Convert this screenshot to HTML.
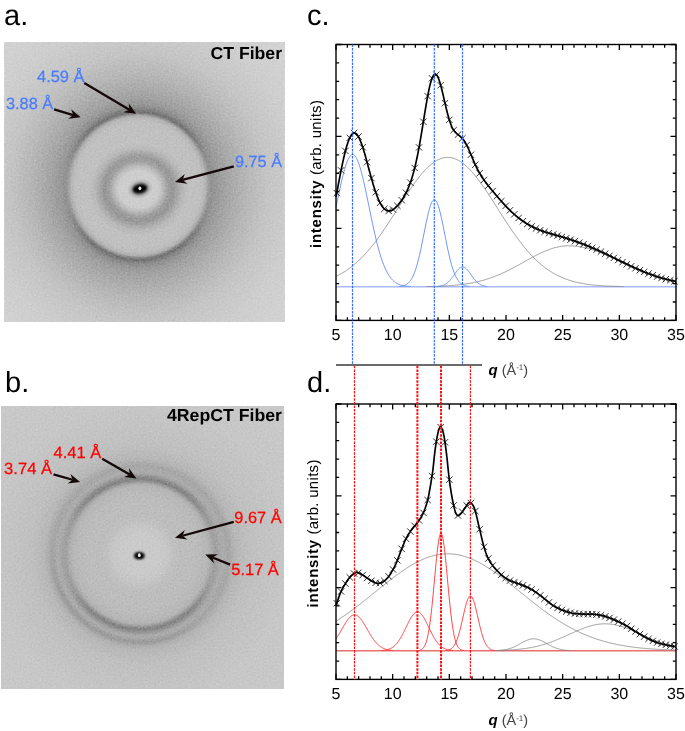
<!DOCTYPE html>
<html><head><meta charset="utf-8"><style>
html,body{margin:0;padding:0;background:#fff;}
svg{display:block;}
text{text-rendering:geometricPrecision;}
.gs{opacity:0.999;}
</style></head><body>
<svg width="685" height="731" viewBox="0 0 685 731" >
<g style="opacity:0.999"><defs><filter id="blur1" x="-50%" y="-50%" width="200%" height="200%"><feGaussianBlur stdDeviation="0.9"/></filter><filter id="blur05" x="-50%" y="-50%" width="200%" height="200%"><feGaussianBlur stdDeviation="0.4"/></filter></defs>
<defs><radialGradient id="rga" gradientUnits="userSpaceOnUse" cx="138.3" cy="185.8" r="200" gradientTransform="translate(138.3,185.8) rotate(0) scale(1,1.026) translate(-138.3,-185.8)"><stop offset="0.0000" stop-color="rgb(207,207,207)"/><stop offset="0.1100" stop-color="rgb(205,205,205)"/><stop offset="0.1500" stop-color="rgb(199,199,199)"/><stop offset="0.2250" stop-color="rgb(193,193,193)"/><stop offset="0.3000" stop-color="rgb(193,193,193)"/><stop offset="0.3200" stop-color="rgb(190,190,190)"/><stop offset="0.3350" stop-color="rgb(181,181,181)"/><stop offset="0.3475" stop-color="rgb(164,164,164)"/><stop offset="0.3600" stop-color="rgb(147,147,147)"/><stop offset="0.3700" stop-color="rgb(146,146,146)"/><stop offset="0.3850" stop-color="rgb(152,152,152)"/><stop offset="0.4250" stop-color="rgb(161,161,161)"/><stop offset="0.4750" stop-color="rgb(171,171,171)"/><stop offset="0.5500" stop-color="rgb(184,184,184)"/><stop offset="0.6500" stop-color="rgb(197,197,197)"/><stop offset="0.8000" stop-color="rgb(206,206,206)"/><stop offset="1.0000" stop-color="rgb(212,212,212)"/></radialGradient><clipPath id="cpa"><rect x="4.5" y="42" width="280" height="280"/></clipPath><radialGradient id="ova0" gradientUnits="userSpaceOnUse" cx="138.6" cy="189.2" r="60" gradientTransform="translate(138.6,189.2) rotate(0) scale(1,0.93) translate(-138.6,-189.2)"><stop offset="0.0000" stop-color="#000" stop-opacity="0"/><stop offset="0.3333" stop-color="#000" stop-opacity="0"/><stop offset="0.4167" stop-color="#000" stop-opacity="0.09"/><stop offset="0.5000" stop-color="#000" stop-opacity="0.21"/><stop offset="0.5833" stop-color="#000" stop-opacity="0.23"/><stop offset="0.6500" stop-color="#000" stop-opacity="0.15"/><stop offset="0.7333" stop-color="#000" stop-opacity="0.05"/><stop offset="0.8333" stop-color="#000" stop-opacity="0"/><stop offset="1.0000" stop-color="#000" stop-opacity="0"/></radialGradient><radialGradient id="ova1" gradientUnits="userSpaceOnUse" cx="138.3" cy="185.8" r="100" gradientTransform="translate(138.3,185.8) rotate(0) scale(1,1.026) translate(-138.3,-185.8)"><stop offset="0.0000" stop-color="#000" stop-opacity="0"/><stop offset="0.6850" stop-color="#000" stop-opacity="0"/><stop offset="0.7050" stop-color="#000" stop-opacity="0.15"/><stop offset="0.7200" stop-color="#000" stop-opacity="0.22"/><stop offset="0.7350" stop-color="#000" stop-opacity="0.16"/><stop offset="0.7600" stop-color="#000" stop-opacity="0.07"/><stop offset="0.8000" stop-color="#000" stop-opacity="0.02"/><stop offset="0.8500" stop-color="#000" stop-opacity="0"/><stop offset="1.0000" stop-color="#000" stop-opacity="0"/></radialGradient><filter id="mfa1" x="-50%" y="-50%" width="200%" height="200%"><feGaussianBlur stdDeviation="14"/></filter><mask id="mka1" maskUnits="userSpaceOnUse" x="4.5" y="42" width="280" height="280"><rect x="4.5" y="42" width="280" height="280" fill="rgb(0,0,0)"/><path d="M138.3,185.8 L-189.36,-43.63 L-144.54,-97.04 L-91.13,-141.86 L-30.75,-176.72 L34.77,-200.57 L103.44,-212.68 L173.16,-212.68 L241.83,-200.57 L307.35,-176.72 L367.73,-141.86 L421.14,-97.04 L465.96,-43.63ZM138.3,185.8 L465.96,415.23 L421.14,468.64 L367.73,513.46 L307.35,548.32 L241.83,572.17 L173.16,584.28 L103.44,584.28 L34.77,572.17 L-30.75,548.32 L-91.13,513.46 L-144.54,468.64 L-189.36,415.23Z" fill="#fff" filter="url(#mfa1)"/></mask><filter id="noisea" x="4.5" y="42" width="280" height="280" filterUnits="userSpaceOnUse" color-interpolation-filters="sRGB"><feTurbulence type="fractalNoise" baseFrequency="0.55" numOctaves="2" seed="3"/><feColorMatrix type="matrix" values="0.33 0.33 0.33 0 0  0.33 0.33 0.33 0 0  0.33 0.33 0.33 0 0  0 0 0 0 1"/></filter><radialGradient id="bha" gradientUnits="userSpaceOnUse" cx="139.9" cy="188.8" r="13" gradientTransform="translate(139.9,188.8) rotate(-12) scale(1,0.75) translate(-139.9,-188.8)"><stop offset="0" stop-color="#000" stop-opacity="0.8"/><stop offset="0.45" stop-color="#000" stop-opacity="0.42"/><stop offset="0.75" stop-color="#000" stop-opacity="0.12"/><stop offset="1" stop-color="#000" stop-opacity="0"/></radialGradient></defs><g clip-path="url(#cpa)"><rect x="4.5" y="42" width="280" height="280" fill="url(#rga)"/><rect x="4.5" y="42" width="280" height="280" fill="url(#ova0)"/><rect x="4.5" y="42" width="280" height="280" fill="url(#ova1)" mask="url(#mka1)"/><rect x="4.5" y="42" width="280" height="280" filter="url(#noisea)" opacity="0.35" style="mix-blend-mode:overlay"/><rect x="126.9" y="175.8" width="26" height="26" fill="url(#bha)"/><ellipse cx="139.9" cy="188.8" rx="7.2" ry="4.3" transform="rotate(-12 139.9 188.8)" fill="#000" filter="url(#blur1)"/><ellipse cx="139.9" cy="188.3" rx="1.4" ry="1.9" fill="#eee" filter="url(#blur05)"/></g>
<defs><radialGradient id="rgb" gradientUnits="userSpaceOnUse" cx="140.2" cy="554.2" r="200" gradientTransform="translate(140.2,554.2) rotate(0) scale(1,1.0) translate(-140.2,-554.2)"><stop offset="0.0000" stop-color="rgb(203,203,203)"/><stop offset="0.1000" stop-color="rgb(202,202,202)"/><stop offset="0.1400" stop-color="rgb(198,198,198)"/><stop offset="0.1700" stop-color="rgb(192,192,192)"/><stop offset="0.2000" stop-color="rgb(189,189,189)"/><stop offset="0.2500" stop-color="rgb(189,189,189)"/><stop offset="0.2900" stop-color="rgb(188,188,188)"/><stop offset="0.3150" stop-color="rgb(185,185,185)"/><stop offset="0.3350" stop-color="rgb(183,183,183)"/><stop offset="0.3500" stop-color="rgb(177,177,177)"/><stop offset="0.3600" stop-color="rgb(170,170,170)"/><stop offset="0.3700" stop-color="rgb(162,162,162)"/><stop offset="0.3800" stop-color="rgb(160,160,160)"/><stop offset="0.3900" stop-color="rgb(164,164,164)"/><stop offset="0.4025" stop-color="rgb(170,170,170)"/><stop offset="0.4150" stop-color="rgb(172,172,172)"/><stop offset="0.4300" stop-color="rgb(168,168,168)"/><stop offset="0.4425" stop-color="rgb(166,166,166)"/><stop offset="0.4550" stop-color="rgb(172,172,172)"/><stop offset="0.4800" stop-color="rgb(183,183,183)"/><stop offset="0.5500" stop-color="rgb(192,192,192)"/><stop offset="0.7500" stop-color="rgb(199,199,199)"/><stop offset="1.0000" stop-color="rgb(201,201,201)"/></radialGradient><clipPath id="cpb"><rect x="1" y="406" width="283" height="283"/></clipPath><radialGradient id="ovb0" gradientUnits="userSpaceOnUse" cx="140.2" cy="554.2" r="100" gradientTransform="translate(140.2,554.2) rotate(0) scale(1,1) translate(-140.2,-554.2)"><stop offset="0.0000" stop-color="#000" stop-opacity="0"/><stop offset="0.7000" stop-color="#000" stop-opacity="0"/><stop offset="0.7250" stop-color="#000" stop-opacity="0.09"/><stop offset="0.7500" stop-color="#000" stop-opacity="0.18"/><stop offset="0.7750" stop-color="#000" stop-opacity="0.12"/><stop offset="0.8000" stop-color="#000" stop-opacity="0.04"/><stop offset="0.8200" stop-color="#000" stop-opacity="0"/><stop offset="1.0000" stop-color="#000" stop-opacity="0"/></radialGradient><filter id="mfb0" x="-50%" y="-50%" width="200%" height="200%"><feGaussianBlur stdDeviation="14"/></filter><mask id="mkb0" maskUnits="userSpaceOnUse" x="1" y="406" width="283" height="283"><rect x="1" y="406" width="283" height="283" fill="rgb(0,0,0)"/><path d="M140.2,554.2 L-187.46,324.77 L-142.64,271.36 L-89.23,226.54 L-28.85,191.68 L36.67,167.83 L105.34,155.72 L175.06,155.72 L243.73,167.83 L309.25,191.68 L369.63,226.54 L423.04,271.36 L467.86,324.77ZM140.2,554.2 L467.86,783.63 L423.04,837.04 L369.63,881.86 L309.25,916.72 L243.73,940.57 L175.06,952.68 L105.34,952.68 L36.67,940.57 L-28.85,916.72 L-89.23,881.86 L-142.64,837.04 L-187.46,783.63Z" fill="#fff" filter="url(#mfb0)"/></mask><radialGradient id="ovb1" gradientUnits="userSpaceOnUse" cx="140.5" cy="553.8" r="100" gradientTransform="translate(140.5,553.8) rotate(0) scale(1,1) translate(-140.5,-553.8)"><stop offset="0.0000" stop-color="#000" stop-opacity="0"/><stop offset="0.8400" stop-color="#000" stop-opacity="0"/><stop offset="0.8700" stop-color="#000" stop-opacity="0.06"/><stop offset="0.8950" stop-color="#000" stop-opacity="0.06"/><stop offset="0.9250" stop-color="#000" stop-opacity="0"/><stop offset="1.0000" stop-color="#000" stop-opacity="0"/></radialGradient><filter id="mfb1" x="-50%" y="-50%" width="200%" height="200%"><feGaussianBlur stdDeviation="16"/></filter><mask id="mkb1" maskUnits="userSpaceOnUse" x="1" y="406" width="283" height="283"><rect x="1" y="406" width="283" height="283" fill="rgb(0,0,0)"/><path d="M140.5,553.8 L340.5,900.21 L277.31,929.68 L209.96,947.72 L140.5,953.8 L71.04,947.72 L3.69,929.68 L-59.5,900.21 L-116.62,860.22 L-165.92,810.92 L-205.91,753.8 L-235.38,690.61 L-253.42,623.26Z" fill="#fff" filter="url(#mfb1)"/></mask><filter id="noiseb" x="1" y="406" width="283" height="283" filterUnits="userSpaceOnUse" color-interpolation-filters="sRGB"><feTurbulence type="fractalNoise" baseFrequency="0.55" numOctaves="2" seed="7"/><feColorMatrix type="matrix" values="0.33 0.33 0.33 0 0  0.33 0.33 0.33 0 0  0.33 0.33 0.33 0 0  0 0 0 0 1"/></filter><radialGradient id="bhb" gradientUnits="userSpaceOnUse" cx="139.3" cy="555.7" r="8" gradientTransform="translate(139.3,555.7) rotate(0) scale(1,0.75) translate(-139.3,-555.7)"><stop offset="0" stop-color="#000" stop-opacity="0.8"/><stop offset="0.45" stop-color="#000" stop-opacity="0.42"/><stop offset="0.75" stop-color="#000" stop-opacity="0.12"/><stop offset="1" stop-color="#000" stop-opacity="0"/></radialGradient></defs><g clip-path="url(#cpb)"><rect x="1" y="406" width="283" height="283" fill="url(#rgb)"/><rect x="1" y="406" width="283" height="283" fill="url(#ovb0)" mask="url(#mkb0)"/><rect x="1" y="406" width="283" height="283" fill="url(#ovb1)" mask="url(#mkb1)"/><rect x="1" y="406" width="283" height="283" filter="url(#noiseb)" opacity="0.35" style="mix-blend-mode:overlay"/><rect x="131.3" y="547.7" width="16" height="16" fill="url(#bhb)"/><ellipse cx="139.3" cy="555.7" rx="4.8" ry="3.3" transform="rotate(0 139.3 555.7)" fill="#000" filter="url(#blur1)"/><ellipse cx="139.3" cy="555.2" rx="1.4" ry="1.9" fill="#eee" filter="url(#blur05)"/></g>
<g font-family="Liberation Sans" font-size="29"><text x="4" y="25">a.</text><text x="5" y="392">b.</text><text x="307" y="25">c.</text><text x="307" y="392">d.</text></g>
<g font-family="Liberation Sans" font-size="17.3" font-weight="bold" text-anchor="end"><text x="282" y="59.4" textLength="71.5" lengthAdjust="spacingAndGlyphs">CT Fiber</text><text x="282" y="421.2" textLength="115" lengthAdjust="spacingAndGlyphs">4RepCT Fiber</text></g>
<g font-family="Liberation Sans" font-size="16.3" fill="#4a7cfc" stroke="#4a7cfc" stroke-width="0.25"><text x="37" y="81.6" textLength="47.5" lengthAdjust="spacingAndGlyphs">4.59 Å</text><text x="6" y="108.6" textLength="47.2" lengthAdjust="spacingAndGlyphs">3.88 Å</text><text x="235" y="167.3" textLength="47" lengthAdjust="spacingAndGlyphs">9.75 Å</text></g>
<g font-family="Liberation Sans" font-size="16.3" fill="#ff0000" stroke="#ff0000" stroke-width="0.25"><text x="53.5" y="458" textLength="47.7" lengthAdjust="spacingAndGlyphs">4.41 Å</text><text x="4.1" y="473.7" textLength="48" lengthAdjust="spacingAndGlyphs">3.74 Å</text><text x="234.3" y="523" textLength="47.3" lengthAdjust="spacingAndGlyphs">9.67 Å</text><text x="231.3" y="575.2" textLength="47.5" lengthAdjust="spacingAndGlyphs">5.17 Å</text></g>
<path d="M84.3,83L129.39,109.72" stroke="#140808" stroke-width="2.3"/><path d="M136.1,113.7L123.66,112.14L129.39,109.72L128.76,103.54Z" fill="#140808"/>
<path d="M54.1,109.3L73.23,115.05" stroke="#140808" stroke-width="2.3"/><path d="M80.7,117.3L68.25,118.78L73.23,115.05L71.13,109.2Z" fill="#140808"/>
<path d="M233.8,166.3L182.54,179.9" stroke="#140808" stroke-width="2.3"/><path d="M175,181.9L184.83,174.12L182.54,179.9L187.4,183.78Z" fill="#140808"/>
<path d="M102.2,458.8L129.73,474.53" stroke="#140808" stroke-width="2.3"/><path d="M136.5,478.4L124.03,477.04L129.73,474.53L129,468.35Z" fill="#140808"/>
<path d="M53.5,474.3L72.6,479.76" stroke="#140808" stroke-width="2.3"/><path d="M80.1,481.9L67.67,483.55L72.6,479.76L70.42,473.93Z" fill="#140808"/>
<path d="M233.8,521.8L182.53,535.75" stroke="#140808" stroke-width="2.3"/><path d="M175,537.8L184.78,529.96L182.53,535.75L187.41,539.61Z" fill="#140808"/>
<path d="M230.1,564.6L212.53,557.52" stroke="#140808" stroke-width="2.3"/><path d="M205.3,554.6L217.84,554.26L212.53,557.52L214.1,563.54Z" fill="#140808"/>
<path d="M336,286.8H676" stroke="#a8bcf8" stroke-width="1.6"/>
<path d="M336,276.34 L336.5,276.1 L337,275.86 L337.5,275.62 L338,275.36 L338.5,275.11 L339,274.85 L339.5,274.59 L340,274.32 L340.5,274.04 L341,273.77 L341.5,273.48 L342,273.2 L342.5,272.9 L343,272.61 L343.5,272.3 L344,272 L344.5,271.68 L345,271.37 L345.5,271.05 L346,270.72 L346.5,270.39 L347,270.05 L347.5,269.71 L348,269.36 L348.5,269 L349,268.65 L349.5,268.28 L350,267.91 L350.5,267.54 L351,267.16 L351.5,266.77 L352,266.38 L352.5,265.98 L353,265.58 L353.5,265.17 L354,264.76 L354.5,264.34 L355,263.92 L355.5,263.49 L356,263.05 L356.5,262.61 L357,262.16 L357.5,261.71 L358,261.25 L358.5,260.78 L359,260.31 L359.5,259.84 L360,259.35 L360.5,258.86 L361,258.37 L361.5,257.87 L362,257.36 L362.5,256.85 L363,256.34 L363.5,255.81 L364,255.28 L364.5,254.75 L365,254.21 L365.5,253.66 L366,253.11 L366.5,252.55 L367,251.99 L367.5,251.42 L368,250.85 L368.5,250.26 L369,249.68 L369.5,249.09 L370,248.49 L370.5,247.89 L371,247.28 L371.5,246.66 L372,246.04 L372.5,245.42 L373,244.79 L373.5,244.15 L374,243.51 L374.5,242.87 L375,242.22 L375.5,241.56 L376,240.9 L376.5,240.23 L377,239.56 L377.5,238.89 L378,238.21 L378.5,237.52 L379,236.83 L379.5,236.14 L380,235.44 L380.5,234.74 L381,234.03 L381.5,233.32 L382,232.6 L382.5,231.88 L383,231.16 L383.5,230.43 L384,229.7 L384.5,228.96 L385,228.22 L385.5,227.48 L386,226.74 L386.5,225.99 L387,225.24 L387.5,224.48 L388,223.72 L388.5,222.96 L389,222.2 L389.5,221.43 L390,220.67 L390.5,219.89 L391,219.12 L391.5,218.35 L392,217.57 L392.5,216.79 L393,216.01 L393.5,215.23 L394,214.45 L394.5,213.67 L395,212.88 L395.5,212.09 L396,211.31 L396.5,210.52 L397,209.73 L397.5,208.95 L398,208.16 L398.5,207.37 L399,206.58 L399.5,205.79 L400,205.01 L400.5,204.22 L401,203.44 L401.5,202.65 L402,201.87 L402.5,201.09 L403,200.31 L403.5,199.53 L404,198.75 L404.5,197.98 L405,197.2 L405.5,196.43 L406,195.67 L406.5,194.9 L407,194.14 L407.5,193.38 L408,192.63 L408.5,191.87 L409,191.12 L409.5,190.38 L410,189.64 L410.5,188.9 L411,188.17 L411.5,187.44 L412,186.72 L412.5,186 L413,185.29 L413.5,184.58 L414,183.88 L414.5,183.18 L415,182.49 L415.5,181.81 L416,181.13 L416.5,180.46 L417,179.79 L417.5,179.13 L418,178.48 L418.5,177.84 L419,177.2 L419.5,176.57 L420,175.95 L420.5,175.33 L421,174.72 L421.5,174.12 L422,173.53 L422.5,172.95 L423,172.38 L423.5,171.81 L424,171.25 L424.5,170.71 L425,170.17 L425.5,169.64 L426,169.12 L426.5,168.61 L427,168.11 L427.5,167.62 L428,167.14 L428.5,166.67 L429,166.21 L429.5,165.76 L430,165.32 L430.5,164.89 L431,164.47 L431.5,164.07 L432,163.67 L432.5,163.29 L433,162.92 L433.5,162.55 L434,162.21 L434.5,161.87 L435,161.54 L435.5,161.23 L436,160.92 L436.5,160.63 L437,160.35 L437.5,160.09 L438,159.83 L438.5,159.59 L439,159.36 L439.5,159.14 L440,158.94 L440.5,158.75 L441,158.57 L441.5,158.4 L442,158.24 L442.5,158.1 L443,157.98 L443.5,157.86 L444,157.76 L444.5,157.67 L445,157.59 L445.5,157.53 L446,157.48 L446.5,157.44 L447,157.41 L447.5,157.4 L448,157.4 L448.5,157.42 L449,157.44 L449.5,157.48 L450,157.54 L450.5,157.6 L451,157.68 L451.5,157.78 L452,157.88 L452.5,158 L453,158.13 L453.5,158.27 L454,158.43 L454.5,158.6 L455,158.78 L455.5,158.98 L456,159.18 L456.5,159.4 L457,159.64 L457.5,159.88 L458,160.14 L458.5,160.41 L459,160.69 L459.5,160.98 L460,161.29 L460.5,161.6 L461,161.93 L461.5,162.27 L462,162.63 L462.5,162.99 L463,163.37 L463.5,163.75 L464,164.15 L464.5,164.56 L465,164.98 L465.5,165.41 L466,165.85 L466.5,166.3 L467,166.76 L467.5,167.23 L468,167.72 L468.5,168.21 L469,168.71 L469.5,169.22 L470,169.74 L470.5,170.28 L471,170.82 L471.5,171.36 L472,171.92 L472.5,172.49 L473,173.07 L473.5,173.65 L474,174.24 L474.5,174.84 L475,175.45 L475.5,176.07 L476,176.69 L476.5,177.33 L477,177.97 L477.5,178.61 L478,179.27 L478.5,179.93 L479,180.59 L479.5,181.27 L480,181.95 L480.5,182.63 L481,183.32 L481.5,184.02 L482,184.72 L482.5,185.43 L483,186.15 L483.5,186.87 L484,187.59 L484.5,188.32 L485,189.05 L485.5,189.79 L486,190.53 L486.5,191.27 L487,192.02 L487.5,192.78 L488,193.53 L488.5,194.29 L489,195.05 L489.5,195.82 L490,196.59 L490.5,197.36 L491,198.13 L491.5,198.91 L492,199.68 L492.5,200.46 L493,201.24 L493.5,202.02 L494,202.81 L494.5,203.59 L495,204.38 L495.5,205.16 L496,205.95 L496.5,206.74 L497,207.53 L497.5,208.31 L498,209.1 L498.5,209.89 L499,210.68 L499.5,211.47 L500,212.25 L500.5,213.04 L501,213.82 L501.5,214.61 L502,215.39 L502.5,216.17 L503,216.95 L503.5,217.73 L504,218.5 L504.5,219.28 L505,220.05 L505.5,220.82 L506,221.59 L506.5,222.35 L507,223.11 L507.5,223.87 L508,224.63 L508.5,225.39 L509,226.14 L509.5,226.89 L510,227.63 L510.5,228.37 L511,229.11 L511.5,229.84 L512,230.58 L512.5,231.3 L513,232.03 L513.5,232.74 L514,233.46 L514.5,234.17 L515,234.88 L515.5,235.58 L516,236.28 L516.5,236.97 L517,237.66 L517.5,238.34 L518,239.02 L518.5,239.7 L519,240.37 L519.5,241.03 L520,241.69 L520.5,242.35 L521,243 L521.5,243.64 L522,244.28 L522.5,244.92 L523,245.55 L523.5,246.17 L524,246.79 L524.5,247.4 L525,248.01 L525.5,248.61 L526,249.21 L526.5,249.8 L527,250.38 L527.5,250.96 L528,251.53 L528.5,252.1 L529,252.66 L529.5,253.22 L530,253.77 L530.5,254.32 L531,254.86 L531.5,255.39 L532,255.92 L532.5,256.44 L533,256.96 L533.5,257.47 L534,257.97 L534.5,258.47 L535,258.96 L535.5,259.45 L536,259.93 L536.5,260.41 L537,260.88 L537.5,261.34 L538,261.8 L538.5,262.25 L539,262.7 L539.5,263.14 L540,263.57 L540.5,264 L541,264.43 L541.5,264.84 L542,265.26 L542.5,265.66 L543,266.06 L543.5,266.46 L544,266.85 L544.5,267.23 L545,267.61 L545.5,267.99 L546,268.36 L546.5,268.72 L547,269.08 L547.5,269.43 L548,269.77 L548.5,270.12 L549,270.45 L549.5,270.78 L550,271.11 L550.5,271.43 L551,271.75 L551.5,272.06 L552,272.36 L552.5,272.67 L553,272.96 L553.5,273.25 L554,273.54 L554.5,273.82 L555,274.1 L555.5,274.37 L556,274.64 L556.5,274.9 L557,275.16 L557.5,275.42 L558,275.66 L558.5,275.91 L559,276.15 L559.5,276.39 L560,276.62 L560.5,276.85 L561,277.07 L561.5,277.29 L562,277.51 L562.5,277.72 L563,277.93 L563.5,278.13 L564,278.33 L564.5,278.53 L565,278.72 L565.5,278.91 L566,279.1 L566.5,279.28 L567,279.46 L567.5,279.63 L568,279.81 L568.5,279.97 L569,280.14 L569.5,280.3 L570,280.46 L570.5,280.61 L571,280.76 L571.5,280.91 L572,281.06 L572.5,281.2 L573,281.34 L573.5,281.48 L574,281.61 L574.5,281.74 L575,281.87 L575.5,281.99 L576,282.12 L576.5,282.24 L577,282.35 L577.5,282.47 L578,282.58 L578.5,282.69 L579,282.8 L579.5,282.9 L580,283 L580.5,283.1 L581,283.2 L581.5,283.3 L582,283.39 L582.5,283.48 L583,283.57 L583.5,283.66 L584,283.74 L584.5,283.83 L585,283.91 L585.5,283.99 L586,284.06 L586.5,284.14 L587,284.21 L587.5,284.28 L588,284.35 L588.5,284.42 L589,284.49 L589.5,284.55 L590,284.62 L590.5,284.68 L591,284.74 L591.5,284.8 L592,284.86 L592.5,284.91 L593,284.97 L593.5,285.02 L594,285.07 L594.5,285.12 L595,285.17 L595.5,285.22 L596,285.26 L596.5,285.31 L597,285.35 L597.5,285.4 L598,285.44 L598.5,285.48 L599,285.52 L599.5,285.56 L600,285.59 L600.5,285.63 L601,285.67 L601.5,285.7 L602,285.74 L602.5,285.77 L603,285.8 L603.5,285.83 L604,285.86 L604.5,285.89 L605,285.92 L605.5,285.95 L606,285.97 L606.5,286 L607,286.02 L607.5,286.05 L608,286.07 L608.5,286.1 L609,286.12 L609.5,286.14 L610,286.16 L610.5,286.18 L611,286.2 L611.5,286.22 L612,286.24 L612.5,286.26 L613,286.28 L613.5,286.29 L614,286.31 L614.5,286.33 L615,286.34 L615.5,286.36 L616,286.37 L616.5,286.39 L617,286.4 L617.5,286.41 L618,286.43 L618.5,286.44 L619,286.45 L619.5,286.46 L620,286.47 L620.5,286.49 L621,286.5 L621.5,286.51 L622,286.52 L622.5,286.53 L623,286.54 L623.5,286.55" stroke="#828282" stroke-width="0.8" fill="none"/>
<path d="M426.5,286.55 L427,286.54 L427.5,286.53 L428,286.52 L428.5,286.51 L429,286.5 L429.5,286.49 L430,286.48 L430.5,286.47 L431,286.45 L431.5,286.44 L432,286.43 L432.5,286.42 L433,286.4 L433.5,286.39 L434,286.37 L434.5,286.36 L435,286.34 L435.5,286.33 L436,286.31 L436.5,286.3 L437,286.28 L437.5,286.26 L438,286.24 L438.5,286.23 L439,286.21 L439.5,286.19 L440,286.17 L440.5,286.15 L441,286.12 L441.5,286.1 L442,286.08 L442.5,286.06 L443,286.03 L443.5,286.01 L444,285.98 L444.5,285.96 L445,285.93 L445.5,285.9 L446,285.87 L446.5,285.84 L447,285.81 L447.5,285.78 L448,285.75 L448.5,285.72 L449,285.69 L449.5,285.65 L450,285.62 L450.5,285.58 L451,285.54 L451.5,285.51 L452,285.47 L452.5,285.43 L453,285.39 L453.5,285.35 L454,285.3 L454.5,285.26 L455,285.21 L455.5,285.17 L456,285.12 L456.5,285.07 L457,285.02 L457.5,284.97 L458,284.92 L458.5,284.87 L459,284.81 L459.5,284.76 L460,284.7 L460.5,284.64 L461,284.58 L461.5,284.52 L462,284.46 L462.5,284.4 L463,284.33 L463.5,284.27 L464,284.2 L464.5,284.13 L465,284.06 L465.5,283.99 L466,283.91 L466.5,283.84 L467,283.76 L467.5,283.68 L468,283.6 L468.5,283.52 L469,283.43 L469.5,283.35 L470,283.26 L470.5,283.17 L471,283.08 L471.5,282.99 L472,282.89 L472.5,282.8 L473,282.7 L473.5,282.6 L474,282.5 L474.5,282.4 L475,282.29 L475.5,282.18 L476,282.07 L476.5,281.96 L477,281.85 L477.5,281.73 L478,281.62 L478.5,281.5 L479,281.37 L479.5,281.25 L480,281.13 L480.5,281 L481,280.87 L481.5,280.74 L482,280.6 L482.5,280.46 L483,280.33 L483.5,280.19 L484,280.04 L484.5,279.9 L485,279.75 L485.5,279.6 L486,279.45 L486.5,279.29 L487,279.14 L487.5,278.98 L488,278.82 L488.5,278.65 L489,278.49 L489.5,278.32 L490,278.15 L490.5,277.98 L491,277.8 L491.5,277.62 L492,277.44 L492.5,277.26 L493,277.08 L493.5,276.89 L494,276.7 L494.5,276.51 L495,276.32 L495.5,276.12 L496,275.93 L496.5,275.73 L497,275.52 L497.5,275.32 L498,275.11 L498.5,274.9 L499,274.69 L499.5,274.48 L500,274.26 L500.5,274.04 L501,273.82 L501.5,273.6 L502,273.38 L502.5,273.15 L503,272.92 L503.5,272.69 L504,272.46 L504.5,272.22 L505,271.99 L505.5,271.75 L506,271.51 L506.5,271.27 L507,271.02 L507.5,270.78 L508,270.53 L508.5,270.28 L509,270.03 L509.5,269.78 L510,269.52 L510.5,269.27 L511,269.01 L511.5,268.75 L512,268.49 L512.5,268.23 L513,267.96 L513.5,267.7 L514,267.43 L514.5,267.17 L515,266.9 L515.5,266.63 L516,266.36 L516.5,266.09 L517,265.81 L517.5,265.54 L518,265.27 L518.5,264.99 L519,264.71 L519.5,264.44 L520,264.16 L520.5,263.88 L521,263.61 L521.5,263.33 L522,263.05 L522.5,262.77 L523,262.49 L523.5,262.21 L524,261.93 L524.5,261.65 L525,261.37 L525.5,261.09 L526,260.82 L526.5,260.54 L527,260.26 L527.5,259.98 L528,259.7 L528.5,259.43 L529,259.15 L529.5,258.87 L530,258.6 L530.5,258.33 L531,258.05 L531.5,257.78 L532,257.51 L532.5,257.24 L533,256.97 L533.5,256.71 L534,256.44 L534.5,256.18 L535,255.92 L535.5,255.66 L536,255.4 L536.5,255.14 L537,254.89 L537.5,254.63 L538,254.38 L538.5,254.13 L539,253.89 L539.5,253.64 L540,253.4 L540.5,253.16 L541,252.93 L541.5,252.69 L542,252.46 L542.5,252.23 L543,252.01 L543.5,251.79 L544,251.57 L544.5,251.35 L545,251.14 L545.5,250.93 L546,250.72 L546.5,250.52 L547,250.32 L547.5,250.12 L548,249.93 L548.5,249.74 L549,249.55 L549.5,249.37 L550,249.19 L550.5,249.02 L551,248.85 L551.5,248.69 L552,248.52 L552.5,248.37 L553,248.21 L553.5,248.06 L554,247.92 L554.5,247.78 L555,247.64 L555.5,247.51 L556,247.39 L556.5,247.26 L557,247.15 L557.5,247.03 L558,246.93 L558.5,246.82 L559,246.72 L559.5,246.63 L560,246.54 L560.5,246.46 L561,246.38 L561.5,246.3 L562,246.24 L562.5,246.17 L563,246.11 L563.5,246.06 L564,246.01 L564.5,245.97 L565,245.93 L565.5,245.89 L566,245.86 L566.5,245.84 L567,245.82 L567.5,245.81 L568,245.8 L568.5,245.8 L569,245.8 L569.5,245.81 L570,245.82 L570.5,245.83 L571,245.85 L571.5,245.87 L572,245.89 L572.5,245.92 L573,245.95 L573.5,245.98 L574,246.02 L574.5,246.06 L575,246.11 L575.5,246.16 L576,246.21 L576.5,246.26 L577,246.32 L577.5,246.39 L578,246.45 L578.5,246.52 L579,246.6 L579.5,246.67 L580,246.75 L580.5,246.84 L581,246.92 L581.5,247.01 L582,247.11 L582.5,247.21 L583,247.31 L583.5,247.41 L584,247.52 L584.5,247.63 L585,247.74 L585.5,247.86 L586,247.98 L586.5,248.1 L587,248.22 L587.5,248.35 L588,248.48 L588.5,248.62 L589,248.76 L589.5,248.9 L590,249.04 L590.5,249.18 L591,249.33 L591.5,249.48 L592,249.64 L592.5,249.8 L593,249.95 L593.5,250.12 L594,250.28 L594.5,250.45 L595,250.62 L595.5,250.79 L596,250.96 L596.5,251.14 L597,251.32 L597.5,251.5 L598,251.68 L598.5,251.87 L599,252.06 L599.5,252.25 L600,252.44 L600.5,252.63 L601,252.83 L601.5,253.02 L602,253.22 L602.5,253.43 L603,253.63 L603.5,253.83 L604,254.04 L604.5,254.25 L605,254.46 L605.5,254.67 L606,254.88 L606.5,255.09 L607,255.31 L607.5,255.52 L608,255.74 L608.5,255.96 L609,256.18 L609.5,256.4 L610,256.63 L610.5,256.85 L611,257.07 L611.5,257.3 L612,257.52 L612.5,257.75 L613,257.98 L613.5,258.21 L614,258.44 L614.5,258.67 L615,258.9 L615.5,259.13 L616,259.36 L616.5,259.59 L617,259.83 L617.5,260.06 L618,260.29 L618.5,260.53 L619,260.76 L619.5,260.99 L620,261.23 L620.5,261.46 L621,261.7 L621.5,261.93 L622,262.17 L622.5,262.4 L623,262.64 L623.5,262.87 L624,263.1 L624.5,263.34 L625,263.57 L625.5,263.81 L626,264.04 L626.5,264.27 L627,264.5 L627.5,264.74 L628,264.97 L628.5,265.2 L629,265.43 L629.5,265.66 L630,265.89 L630.5,266.12 L631,266.34 L631.5,266.57 L632,266.8 L632.5,267.02 L633,267.25 L633.5,267.47 L634,267.7 L634.5,267.92 L635,268.14 L635.5,268.36 L636,268.58 L636.5,268.8 L637,269.02 L637.5,269.23 L638,269.45 L638.5,269.66 L639,269.87 L639.5,270.09 L640,270.3 L640.5,270.51 L641,270.71 L641.5,270.92 L642,271.13 L642.5,271.33 L643,271.53 L643.5,271.74 L644,271.94 L644.5,272.14 L645,272.33 L645.5,272.53 L646,272.72 L646.5,272.92 L647,273.11 L647.5,273.3 L648,273.49 L648.5,273.68 L649,273.86 L649.5,274.05 L650,274.23 L650.5,274.41 L651,274.59 L651.5,274.77 L652,274.95 L652.5,275.12 L653,275.3 L653.5,275.47 L654,275.64 L654.5,275.81 L655,275.98 L655.5,276.14 L656,276.31 L656.5,276.47 L657,276.63 L657.5,276.79 L658,276.95 L658.5,277.1 L659,277.26 L659.5,277.41 L660,277.56 L660.5,277.71 L661,277.86 L661.5,278.01 L662,278.15 L662.5,278.29 L663,278.44 L663.5,278.58 L664,278.71 L664.5,278.85 L665,278.99 L665.5,279.12 L666,279.25 L666.5,279.38 L667,279.51 L667.5,279.64 L668,279.76 L668.5,279.89 L669,280.01 L669.5,280.13 L670,280.25 L670.5,280.37 L671,280.48 L671.5,280.6 L672,280.71 L672.5,280.82 L673,280.93 L673.5,281.04 L674,281.15 L674.5,281.25 L675,281.36 L675.5,281.46 L676,281.56" stroke="#828282" stroke-width="0.8" fill="none"/>
<path d="M336,207.53 L336.5,205.09 L337,202.64 L337.5,200.21 L338,197.78 L338.5,195.38 L339,192.99 L339.5,190.64 L340,188.31 L340.5,186.02 L341,183.78 L341.5,181.58 L342,179.44 L342.5,177.35 L343,175.33 L343.5,173.38 L344,171.5 L344.5,169.69 L345,167.97 L345.5,166.34 L346,164.79 L346.5,163.34 L347,161.99 L347.5,160.74 L348,159.6 L348.5,158.57 L349,157.65 L349.5,156.84 L350,156.15 L350.5,155.58 L351,155.13 L351.5,154.8 L352,154.59 L352.5,154.5 L353,154.54 L353.5,154.7 L354,154.98 L354.5,155.38 L355,155.91 L355.5,156.55 L356,157.31 L356.5,158.19 L357,159.18 L357.5,160.28 L358,161.48 L358.5,162.79 L359,164.2 L359.5,165.71 L360,167.31 L360.5,168.99 L361,170.76 L361.5,172.62 L362,174.54 L362.5,176.54 L363,178.6 L363.5,180.72 L364,182.9 L364.5,185.12 L365,187.39 L365.5,189.7 L366,192.05 L366.5,194.42 L367,196.82 L367.5,199.24 L368,201.67 L368.5,204.11 L369,206.56 L369.5,209 L370,211.44 L370.5,213.88 L371,216.29 L371.5,218.7 L372,221.08 L372.5,223.44 L373,225.77 L373.5,228.06 L374,230.33 L374.5,232.56 L375,234.75 L375.5,236.89 L376,238.99 L376.5,241.05 L377,243.06 L377.5,245.02 L378,246.93 L378.5,248.78 L379,250.59 L379.5,252.34 L380,254.03 L380.5,255.68 L381,257.26 L381.5,258.79 L382,260.27 L382.5,261.69 L383,263.06 L383.5,264.38 L384,265.64 L384.5,266.85 L385,268.01 L385.5,269.11 L386,270.17 L386.5,271.18 L387,272.14 L387.5,273.05 L388,273.92 L388.5,274.75 L389,275.53 L389.5,276.27 L390,276.98 L390.5,277.64 L391,278.27 L391.5,278.86 L392,279.42 L392.5,279.94 L393,280.43 L393.5,280.9 L394,281.33 L394.5,281.74 L395,282.12 L395.5,282.48 L396,282.81 L396.5,283.12 L397,283.41 L397.5,283.68 L398,283.93 L398.5,284.17 L399,284.38 L399.5,284.58 L400,284.77 L400.5,284.94 L401,285.1 L401.5,285.25 L402,285.38 L402.5,285.51 L403,285.62 L403.5,285.73 L404,285.83 L404.5,285.92 L405,286 L405.5,286.07 L406,286.14 L406.5,286.2 L407,286.26 L407.5,286.31 L408,286.36 L408.5,286.4 L409,286.44 L409.5,286.48 L410,286.51 L410.5,286.54" stroke="#5a88f5" stroke-width="0.9" fill="none"/>
<path d="M399,286.53 L399.5,286.48 L400,286.42 L400.5,286.36 L401,286.28 L401.5,286.2 L402,286.1 L402.5,285.99 L403,285.86 L403.5,285.72 L404,285.55 L404.5,285.37 L405,285.16 L405.5,284.92 L406,284.65 L406.5,284.36 L407,284.03 L407.5,283.66 L408,283.24 L408.5,282.79 L409,282.29 L409.5,281.73 L410,281.12 L410.5,280.46 L411,279.73 L411.5,278.93 L412,278.07 L412.5,277.13 L413,276.12 L413.5,275.03 L414,273.85 L414.5,272.6 L415,271.25 L415.5,269.82 L416,268.3 L416.5,266.69 L417,264.99 L417.5,263.2 L418,261.33 L418.5,259.36 L419,257.32 L419.5,255.19 L420,253 L420.5,250.73 L421,248.4 L421.5,246.01 L422,243.57 L422.5,241.09 L423,238.59 L423.5,236.06 L424,233.52 L424.5,230.99 L425,228.47 L425.5,225.98 L426,223.53 L426.5,221.13 L427,218.8 L427.5,216.54 L428,214.38 L428.5,212.33 L429,210.39 L429.5,208.59 L430,206.93 L430.5,205.42 L431,204.07 L431.5,202.9 L432,201.9 L432.5,201.09 L433,200.48 L433.5,200.06 L434,199.84 L434.5,199.82 L435,200 L435.5,200.38 L436,200.95 L436.5,201.72 L437,202.68 L437.5,203.82 L438,205.14 L438.5,206.61 L439,208.25 L439.5,210.02 L440,211.93 L440.5,213.96 L441,216.1 L441.5,218.34 L442,220.66 L442.5,223.04 L443,225.49 L443.5,227.97 L444,230.49 L444.5,233.02 L445,235.55 L445.5,238.08 L446,240.59 L446.5,243.08 L447,245.52 L447.5,247.92 L448,250.27 L448.5,252.55 L449,254.76 L449.5,256.9 L450,258.96 L450.5,260.94 L451,262.83 L451.5,264.64 L452,266.36 L452.5,267.98 L453,269.52 L453.5,270.97 L454,272.33 L454.5,273.61 L455,274.8 L455.5,275.91 L456,276.93 L456.5,277.89 L457,278.76 L457.5,279.57 L458,280.32 L458.5,281 L459,281.62 L459.5,282.18 L460,282.69 L460.5,283.16 L461,283.58 L461.5,283.95 L462,284.29 L462.5,284.6 L463,284.87 L463.5,285.11 L464,285.33 L464.5,285.52 L465,285.68 L465.5,285.83 L466,285.96 L466.5,286.08 L467,286.18 L467.5,286.27 L468,286.34 L468.5,286.41 L469,286.47 L469.5,286.52" stroke="#5a88f5" stroke-width="0.9" fill="none"/>
<path d="M437.5,286.55 L438,286.5 L438.5,286.44 L439,286.38 L439.5,286.31 L440,286.22 L440.5,286.13 L441,286.02 L441.5,285.89 L442,285.75 L442.5,285.59 L443,285.41 L443.5,285.21 L444,284.99 L444.5,284.75 L445,284.48 L445.5,284.18 L446,283.86 L446.5,283.51 L447,283.13 L447.5,282.71 L448,282.27 L448.5,281.8 L449,281.29 L449.5,280.76 L450,280.2 L450.5,279.61 L451,279 L451.5,278.36 L452,277.7 L452.5,277.03 L453,276.34 L453.5,275.64 L454,274.93 L454.5,274.23 L455,273.52 L455.5,272.83 L456,272.15 L456.5,271.5 L457,270.86 L457.5,270.26 L458,269.7 L458.5,269.17 L459,268.7 L459.5,268.27 L460,267.9 L460.5,267.6 L461,267.35 L461.5,267.17 L462,267.05 L462.5,267 L463,267.02 L463.5,267.11 L464,267.27 L464.5,267.49 L465,267.77 L465.5,268.12 L466,268.52 L466.5,268.98 L467,269.48 L467.5,270.03 L468,270.62 L468.5,271.24 L469,271.89 L469.5,272.56 L470,273.25 L470.5,273.94 L471,274.65 L471.5,275.36 L472,276.06 L472.5,276.75 L473,277.43 L473.5,278.1 L474,278.74 L474.5,279.37 L475,279.97 L475.5,280.54 L476,281.09 L476.5,281.6 L477,282.09 L477.5,282.54 L478,282.96 L478.5,283.36 L479,283.72 L479.5,284.06 L480,284.36 L480.5,284.64 L481,284.9 L481.5,285.13 L482,285.34 L482.5,285.52 L483,285.69 L483.5,285.84 L484,285.97 L484.5,286.08 L485,286.19 L485.5,286.27 L486,286.35 L486.5,286.42 L487,286.48 L487.5,286.53" stroke="#5a88f5" stroke-width="0.9" fill="none"/>
<path d="M333.55,189.85l6.4,6.4M333.55,196.25l6.4,-6.4M337.88,167.15l6.4,6.4M337.88,173.55l6.4,-6.4M342.21,147.73l6.4,6.4M342.21,154.13l6.4,-6.4M346.54,134.62l6.4,6.4M346.54,141.02l6.4,-6.4M350.87,129.74l6.4,6.4M350.87,136.14l6.4,-6.4M355.2,133.4l6.4,6.4M355.2,139.8l6.4,-6.4M359.53,144.1l6.4,6.4M359.53,150.5l6.4,-6.4M363.86,159.03l6.4,6.4M363.86,165.43l6.4,-6.4M368.19,174.97l6.4,6.4M368.19,181.37l6.4,-6.4M372.52,189.08l6.4,6.4M372.52,195.48l6.4,-6.4M376.85,199.56l6.4,6.4M376.85,205.96l6.4,-6.4M381.18,205.69l6.4,6.4M381.18,212.09l6.4,-6.4M385.51,207.7l6.4,6.4M385.51,214.1l6.4,-6.4M389.84,206.37l6.4,6.4M389.84,212.77l6.4,-6.4M394.17,202.58l6.4,6.4M394.17,208.98l6.4,-6.4M398.5,196.96l6.4,6.4M398.5,203.36l6.4,-6.4M402.83,189.55l6.4,6.4M402.83,195.95l6.4,-6.4M407.16,179.41l6.4,6.4M407.16,185.81l6.4,-6.4M411.49,164.8l6.4,6.4M411.49,171.2l6.4,-6.4M415.82,144.23l6.4,6.4M415.82,150.63l6.4,-6.4M420.15,118.59l6.4,6.4M420.15,124.99l6.4,-6.4M424.48,92.93l6.4,6.4M424.48,99.33l6.4,-6.4M428.81,75.15l6.4,6.4M428.81,81.55l6.4,-6.4M433.14,71.54l6.4,6.4M433.14,77.94l6.4,-6.4M437.47,82l6.4,6.4M437.47,88.4l6.4,-6.4M441.8,99.95l6.4,6.4M441.8,106.35l6.4,-6.4M446.13,116.65l6.4,6.4M446.13,123.05l6.4,-6.4M450.46,126.88l6.4,6.4M450.46,133.28l6.4,-6.4M454.79,131.47l6.4,6.4M454.79,137.87l6.4,-6.4M459.12,135.19l6.4,6.4M459.12,141.59l6.4,-6.4M463.45,141.89l6.4,6.4M463.45,148.29l6.4,-6.4M467.78,151.53l6.4,6.4M467.78,157.93l6.4,-6.4M472.11,161.55l6.4,6.4M472.11,167.95l6.4,-6.4M476.44,170.01l6.4,6.4M476.44,176.41l6.4,-6.4M480.77,176.76l6.4,6.4M480.77,183.16l6.4,-6.4M485.1,182.5l6.4,6.4M485.1,188.9l6.4,-6.4M489.43,187.84l6.4,6.4M489.43,194.24l6.4,-6.4M493.76,193l6.4,6.4M493.76,199.4l6.4,-6.4M498.09,197.97l6.4,6.4M498.09,204.37l6.4,-6.4M502.42,202.7l6.4,6.4M502.42,209.1l6.4,-6.4M506.75,207.1l6.4,6.4M506.75,213.5l6.4,-6.4M511.08,211.14l6.4,6.4M511.08,217.54l6.4,-6.4M515.41,214.78l6.4,6.4M515.41,221.18l6.4,-6.4M519.74,217.99l6.4,6.4M519.74,224.39l6.4,-6.4M524.07,220.8l6.4,6.4M524.07,227.2l6.4,-6.4M528.4,223.22l6.4,6.4M528.4,229.62l6.4,-6.4M532.73,225.3l6.4,6.4M532.73,231.7l6.4,-6.4M537.06,227.07l6.4,6.4M537.06,233.47l6.4,-6.4M541.39,228.61l6.4,6.4M541.39,235.01l6.4,-6.4M545.72,229.98l6.4,6.4M545.72,236.38l6.4,-6.4M550.05,231.25l6.4,6.4M550.05,237.65l6.4,-6.4M554.38,232.47l6.4,6.4M554.38,238.87l6.4,-6.4M558.71,233.72l6.4,6.4M558.71,240.12l6.4,-6.4M563.04,235.04l6.4,6.4M563.04,241.44l6.4,-6.4M567.37,236.46l6.4,6.4M567.37,242.86l6.4,-6.4M571.7,237.94l6.4,6.4M571.7,244.34l6.4,-6.4M576.03,239.48l6.4,6.4M576.03,245.88l6.4,-6.4M580.36,241.09l6.4,6.4M580.36,247.49l6.4,-6.4M584.69,242.79l6.4,6.4M584.69,249.19l6.4,-6.4M589.02,244.59l6.4,6.4M589.02,250.99l6.4,-6.4M593.35,246.47l6.4,6.4M593.35,252.87l6.4,-6.4M597.68,248.44l6.4,6.4M597.68,254.84l6.4,-6.4M602.01,250.47l6.4,6.4M602.01,256.87l6.4,-6.4M606.34,252.56l6.4,6.4M606.34,258.96l6.4,-6.4M610.67,254.68l6.4,6.4M610.67,261.08l6.4,-6.4M615,256.82l6.4,6.4M615,263.22l6.4,-6.4M619.33,258.94l6.4,6.4M619.33,265.34l6.4,-6.4M623.66,261.04l6.4,6.4M623.66,267.44l6.4,-6.4M627.99,263.08l6.4,6.4M627.99,269.48l6.4,-6.4M632.32,265.06l6.4,6.4M632.32,271.46l6.4,-6.4M636.65,266.96l6.4,6.4M636.65,273.36l6.4,-6.4M640.98,268.75l6.4,6.4M640.98,275.15l6.4,-6.4M645.31,270.44l6.4,6.4M645.31,276.84l6.4,-6.4M649.64,272.01l6.4,6.4M649.64,278.41l6.4,-6.4M653.97,273.47l6.4,6.4M653.97,279.87l6.4,-6.4M658.3,274.79l6.4,6.4M658.3,281.19l6.4,-6.4M662.63,276l6.4,6.4M662.63,282.4l6.4,-6.4M666.96,277.08l6.4,6.4M666.96,283.48l6.4,-6.4M671.29,278.05l6.4,6.4M671.29,284.45l6.4,-6.4" stroke="#333" stroke-width="1" fill="none"/>
<path d="M336,197.08 L336.5,194.39 L337,191.71 L337.5,189.02 L338,186.35 L338.5,183.69 L339,181.04 L339.5,178.42 L340,175.83 L340.5,173.27 L341,170.75 L341.5,168.27 L342,165.83 L342.5,163.46 L343,161.14 L343.5,158.88 L344,156.69 L344.5,154.58 L345,152.54 L345.5,150.58 L346,148.71 L346.5,146.93 L347,145.24 L347.5,143.65 L348,142.16 L348.5,140.77 L349,139.5 L349.5,138.32 L350,137.26 L350.5,136.32 L351,135.49 L351.5,134.77 L352,134.17 L352.5,133.69 L353,133.32 L353.5,133.07 L354,132.94 L354.5,132.93 L355,133.03 L355.5,133.24 L356,133.56 L356.5,134 L357,134.54 L357.5,135.18 L358,135.93 L358.5,136.77 L359,137.71 L359.5,138.74 L360,139.86 L360.5,141.06 L361,142.33 L361.5,143.68 L362,145.1 L362.5,146.59 L363,148.13 L363.5,149.73 L364,151.38 L364.5,153.07 L365,154.8 L365.5,156.56 L366,158.36 L366.5,160.17 L367,162.01 L367.5,163.86 L368,165.71 L368.5,167.57 L369,169.43 L369.5,171.29 L370,173.13 L370.5,174.96 L371,176.77 L371.5,178.56 L372,180.32 L372.5,182.05 L373,183.75 L373.5,185.42 L374,187.04 L374.5,188.62 L375,190.16 L375.5,191.65 L376,193.09 L376.5,194.48 L377,195.82 L377.5,197.1 L378,198.33 L378.5,199.5 L379,200.61 L379.5,201.67 L380,202.67 L380.5,203.61 L381,204.49 L381.5,205.31 L382,206.07 L382.5,206.77 L383,207.41 L383.5,208 L384,208.53 L384.5,209 L385,209.42 L385.5,209.78 L386,210.1 L386.5,210.35 L387,210.56 L387.5,210.72 L388,210.83 L388.5,210.89 L389,210.91 L389.5,210.89 L390,210.82 L390.5,210.71 L391,210.56 L391.5,210.37 L392,210.15 L392.5,209.89 L393,209.6 L393.5,209.27 L394,208.92 L394.5,208.53 L395,208.11 L395.5,207.67 L396,207.2 L396.5,206.7 L397,206.18 L397.5,205.64 L398,205.07 L398.5,204.48 L399,203.86 L399.5,203.23 L400,202.57 L400.5,201.89 L401,201.19 L401.5,200.46 L402,199.71 L402.5,198.94 L403,198.15 L403.5,197.33 L404,196.48 L404.5,195.61 L405,194.71 L405.5,193.77 L406,192.81 L406.5,191.81 L407,190.77 L407.5,189.69 L408,188.57 L408.5,187.4 L409,186.19 L409.5,184.92 L410,183.6 L410.5,182.23 L411,180.79 L411.5,179.29 L412,177.72 L412.5,176.08 L413,174.37 L413.5,172.58 L414,170.71 L414.5,168.77 L415,166.74 L415.5,164.63 L416,162.44 L416.5,160.16 L417,157.8 L417.5,155.35 L418,152.83 L418.5,150.22 L419,147.54 L419.5,144.78 L420,141.96 L420.5,139.07 L421,136.13 L421.5,133.14 L422,130.1 L422.5,127.04 L423,123.95 L423.5,120.86 L424,117.76 L424.5,114.67 L425,111.61 L425.5,108.58 L426,105.6 L426.5,102.68 L427,99.84 L427.5,97.08 L428,94.43 L428.5,91.9 L429,89.49 L429.5,87.22 L430,85.11 L430.5,83.16 L431,81.38 L431.5,79.78 L432,78.37 L432.5,77.16 L433,76.15 L433.5,75.34 L434,74.75 L434.5,74.36 L435,74.18 L435.5,74.21 L436,74.44 L436.5,74.87 L437,75.5 L437.5,76.32 L438,77.31 L438.5,78.47 L439,79.79 L439.5,81.26 L440,82.86 L440.5,84.58 L441,86.41 L441.5,88.33 L442,90.33 L442.5,92.39 L443,94.51 L443.5,96.65 L444,98.82 L444.5,100.99 L445,103.15 L445.5,105.29 L446,107.4 L446.5,109.47 L447,111.47 L447.5,113.42 L448,115.29 L448.5,117.08 L449,118.79 L449.5,120.4 L450,121.92 L450.5,123.34 L451,124.66 L451.5,125.88 L452,127.01 L452.5,128.04 L453,128.98 L453.5,129.83 L454,130.6 L454.5,131.29 L455,131.92 L455.5,132.48 L456,132.99 L456.5,133.46 L457,133.89 L457.5,134.29 L458,134.67 L458.5,135.05 L459,135.42 L459.5,135.8 L460,136.19 L460.5,136.6 L461,137.04 L461.5,137.52 L462,138.03 L462.5,138.59 L463,139.19 L463.5,139.84 L464,140.54 L464.5,141.29 L465,142.09 L465.5,142.95 L466,143.85 L466.5,144.79 L467,145.78 L467.5,146.81 L468,147.88 L468.5,148.97 L469,150.1 L469.5,151.25 L470,152.41 L470.5,153.59 L471,154.77 L471.5,155.96 L472,157.15 L472.5,158.34 L473,159.51 L473.5,160.68 L474,161.83 L474.5,162.96 L475,164.07 L475.5,165.16 L476,166.22 L476.5,167.27 L477,168.28 L477.5,169.27 L478,170.23 L478.5,171.17 L479,172.08 L479.5,172.97 L480,173.83 L480.5,174.67 L481,175.49 L481.5,176.28 L482,177.06 L482.5,177.82 L483,178.56 L483.5,179.29 L484,180 L484.5,180.7 L485,181.38 L485.5,182.06 L486,182.73 L486.5,183.39 L487,184.04 L487.5,184.68 L488,185.32 L488.5,185.95 L489,186.58 L489.5,187.21 L490,187.83 L490.5,188.44 L491,189.06 L491.5,189.67 L492,190.28 L492.5,190.88 L493,191.49 L493.5,192.09 L494,192.69 L494.5,193.29 L495,193.88 L495.5,194.48 L496,195.07 L496.5,195.66 L497,196.24 L497.5,196.83 L498,197.41 L498.5,197.99 L499,198.57 L499.5,199.14 L500,199.71 L500.5,200.28 L501,200.84 L501.5,201.41 L502,201.96 L502.5,202.52 L503,203.07 L503.5,203.62 L504,204.16 L504.5,204.7 L505,205.24 L505.5,205.77 L506,206.3 L506.5,206.82 L507,207.34 L507.5,207.85 L508,208.36 L508.5,208.87 L509,209.37 L509.5,209.86 L510,210.35 L510.5,210.84 L511,211.32 L511.5,211.79 L512,212.26 L512.5,212.73 L513,213.19 L513.5,213.64 L514,214.09 L514.5,214.54 L515,214.97 L515.5,215.41 L516,215.83 L516.5,216.26 L517,216.67 L517.5,217.08 L518,217.49 L518.5,217.89 L519,218.28 L519.5,218.67 L520,219.05 L520.5,219.43 L521,219.8 L521.5,220.17 L522,220.53 L522.5,220.89 L523,221.24 L523.5,221.58 L524,221.92 L524.5,222.25 L525,222.58 L525.5,222.9 L526,223.22 L526.5,223.53 L527,223.84 L527.5,224.14 L528,224.44 L528.5,224.73 L529,225.01 L529.5,225.3 L530,225.57 L530.5,225.84 L531,226.11 L531.5,226.37 L532,226.63 L532.5,226.88 L533,227.13 L533.5,227.37 L534,227.61 L534.5,227.85 L535,228.08 L535.5,228.31 L536,228.53 L536.5,228.75 L537,228.96 L537.5,229.17 L538,229.38 L538.5,229.58 L539,229.78 L539.5,229.98 L540,230.17 L540.5,230.37 L541,230.55 L541.5,230.74 L542,230.92 L542.5,231.1 L543,231.27 L543.5,231.45 L544,231.62 L544.5,231.78 L545,231.95 L545.5,232.11 L546,232.28 L546.5,232.43 L547,232.59 L547.5,232.75 L548,232.9 L548.5,233.06 L549,233.21 L549.5,233.36 L550,233.5 L550.5,233.65 L551,233.8 L551.5,233.94 L552,234.09 L552.5,234.23 L553,234.37 L553.5,234.52 L554,234.66 L554.5,234.8 L555,234.94 L555.5,235.08 L556,235.22 L556.5,235.37 L557,235.51 L557.5,235.65 L558,235.79 L558.5,235.93 L559,236.08 L559.5,236.22 L560,236.36 L560.5,236.51 L561,236.65 L561.5,236.8 L562,236.94 L562.5,237.09 L563,237.24 L563.5,237.39 L564,237.54 L564.5,237.7 L565,237.85 L565.5,238.01 L566,238.16 L566.5,238.32 L567,238.48 L567.5,238.64 L568,238.81 L568.5,238.97 L569,239.14 L569.5,239.31 L570,239.47 L570.5,239.64 L571,239.81 L571.5,239.98 L572,240.15 L572.5,240.32 L573,240.49 L573.5,240.66 L574,240.83 L574.5,241 L575,241.18 L575.5,241.35 L576,241.52 L576.5,241.7 L577,241.88 L577.5,242.05 L578,242.23 L578.5,242.41 L579,242.59 L579.5,242.77 L580,242.96 L580.5,243.14 L581,243.33 L581.5,243.51 L582,243.7 L582.5,243.89 L583,244.08 L583.5,244.27 L584,244.46 L584.5,244.65 L585,244.85 L585.5,245.04 L586,245.24 L586.5,245.44 L587,245.64 L587.5,245.84 L588,246.04 L588.5,246.24 L589,246.44 L589.5,246.65 L590,246.86 L590.5,247.06 L591,247.27 L591.5,247.48 L592,247.69 L592.5,247.91 L593,248.12 L593.5,248.34 L594,248.55 L594.5,248.77 L595,248.99 L595.5,249.21 L596,249.43 L596.5,249.65 L597,249.87 L597.5,250.1 L598,250.32 L598.5,250.55 L599,250.78 L599.5,251 L600,251.23 L600.5,251.46 L601,251.69 L601.5,251.93 L602,252.16 L602.5,252.39 L603,252.63 L603.5,252.86 L604,253.1 L604.5,253.34 L605,253.57 L605.5,253.81 L606,254.05 L606.5,254.29 L607,254.53 L607.5,254.77 L608,255.01 L608.5,255.26 L609,255.5 L609.5,255.74 L610,255.99 L610.5,256.23 L611,256.47 L611.5,256.72 L612,256.96 L612.5,257.21 L613,257.46 L613.5,257.7 L614,257.95 L614.5,258.19 L615,258.44 L615.5,258.69 L616,258.93 L616.5,259.18 L617,259.43 L617.5,259.67 L618,259.92 L618.5,260.17 L619,260.41 L619.5,260.66 L620,260.9 L620.5,261.15 L621,261.39 L621.5,261.64 L622,261.88 L622.5,262.13 L623,262.37 L623.5,262.62 L624,262.86 L624.5,263.1 L625,263.34 L625.5,263.58 L626,263.83 L626.5,264.07 L627,264.31 L627.5,264.54 L628,264.78 L628.5,265.02 L629,265.26 L629.5,265.49 L630,265.73 L630.5,265.96 L631,266.2 L631.5,266.43 L632,266.66 L632.5,266.89 L633,267.12 L633.5,267.35 L634,267.58 L634.5,267.8 L635,268.03 L635.5,268.25 L636,268.48 L636.5,268.7 L637,268.92 L637.5,269.14 L638,269.36 L638.5,269.58 L639,269.79 L639.5,270.01 L640,270.22 L640.5,270.43 L641,270.64 L641.5,270.85 L642,271.06 L642.5,271.27 L643,271.47 L643.5,271.68 L644,271.88 L644.5,272.08 L645,272.28 L645.5,272.48 L646,272.68 L646.5,272.87 L647,273.07 L647.5,273.26 L648,273.45 L648.5,273.64 L649,273.83 L649.5,274.01 L650,274.2 L650.5,274.38 L651,274.56 L651.5,274.74 L652,274.92 L652.5,275.1 L653,275.27 L653.5,275.44 L654,275.62 L654.5,275.79 L655,275.95 L655.5,276.12 L656,276.29 L656.5,276.45 L657,276.61 L657.5,276.77 L658,276.93 L658.5,277.09 L659,277.24 L659.5,277.4 L660,277.55 L660.5,277.7 L661,277.85 L661.5,277.99 L662,278.14 L662.5,278.28 L663,278.42 L663.5,278.56 L664,278.7 L664.5,278.84 L665,278.98 L665.5,279.11 L666,279.24 L666.5,279.37 L667,279.5 L667.5,279.63 L668,279.75 L668.5,279.88 L669,280 L669.5,280.12 L670,280.24 L670.5,280.36 L671,280.48 L671.5,280.59 L672,280.7 L672.5,280.82 L673,280.93 L673.5,281.03 L674,281.14 L674.5,281.25 L675,281.35 L675.5,281.45 L676,281.56" stroke="#000" stroke-width="1.7" fill="none" stroke-linejoin="round"/>
<rect x="336" y="44.5" width="340" height="275.9" fill="none" stroke="#000" stroke-width="1.4"/>
<path d="M336,320.4v-5.5M336,44.5v5.5M347.33,320.4v-3.2M347.33,44.5v3.2M358.67,320.4v-3.2M358.67,44.5v3.2M370,320.4v-3.2M370,44.5v3.2M381.33,320.4v-3.2M381.33,44.5v3.2M392.67,320.4v-5.5M392.67,44.5v5.5M404,320.4v-3.2M404,44.5v3.2M415.33,320.4v-3.2M415.33,44.5v3.2M426.67,320.4v-3.2M426.67,44.5v3.2M438,320.4v-3.2M438,44.5v3.2M449.33,320.4v-5.5M449.33,44.5v5.5M460.67,320.4v-3.2M460.67,44.5v3.2M472,320.4v-3.2M472,44.5v3.2M483.33,320.4v-3.2M483.33,44.5v3.2M494.67,320.4v-3.2M494.67,44.5v3.2M506,320.4v-5.5M506,44.5v5.5M517.33,320.4v-3.2M517.33,44.5v3.2M528.67,320.4v-3.2M528.67,44.5v3.2M540,320.4v-3.2M540,44.5v3.2M551.33,320.4v-3.2M551.33,44.5v3.2M562.67,320.4v-5.5M562.67,44.5v5.5M574,320.4v-3.2M574,44.5v3.2M585.33,320.4v-3.2M585.33,44.5v3.2M596.67,320.4v-3.2M596.67,44.5v3.2M608,320.4v-3.2M608,44.5v3.2M619.33,320.4v-5.5M619.33,44.5v5.5M630.67,320.4v-3.2M630.67,44.5v3.2M642,320.4v-3.2M642,44.5v3.2M653.33,320.4v-3.2M653.33,44.5v3.2M664.67,320.4v-3.2M664.67,44.5v3.2M676,320.4v-5.5M676,44.5v5.5M336,44.5h5.5M676,44.5h-5.5M336,62.89h3.2M676,62.89h-3.2M336,81.29h3.2M676,81.29h-3.2M336,99.68h3.2M676,99.68h-3.2M336,118.07h3.2M676,118.07h-3.2M336,136.47h5.5M676,136.47h-5.5M336,154.86h3.2M676,154.86h-3.2M336,173.25h3.2M676,173.25h-3.2M336,191.65h3.2M676,191.65h-3.2M336,210.04h3.2M676,210.04h-3.2M336,228.43h5.5M676,228.43h-5.5M336,246.83h3.2M676,246.83h-3.2M336,265.22h3.2M676,265.22h-3.2M336,283.61h3.2M676,283.61h-3.2M336,302.01h3.2M676,302.01h-3.2M336,320.4h5.5M676,320.4h-5.5" stroke="#000" stroke-width="1.3" fill="none"/>
<path d="M336,650.8H676" stroke="#e87070" stroke-width="1.4"/>
<path d="M336,621.2 L336.5,620.88 L337,620.56 L337.5,620.25 L338,619.92 L338.5,619.6 L339,619.28 L339.5,618.95 L340,618.62 L340.5,618.29 L341,617.96 L341.5,617.62 L342,617.29 L342.5,616.95 L343,616.61 L343.5,616.27 L344,615.93 L344.5,615.58 L345,615.23 L345.5,614.89 L346,614.54 L346.5,614.18 L347,613.83 L347.5,613.48 L348,613.12 L348.5,612.76 L349,612.4 L349.5,612.04 L350,611.68 L350.5,611.31 L351,610.95 L351.5,610.58 L352,610.21 L352.5,609.84 L353,609.47 L353.5,609.1 L354,608.72 L354.5,608.35 L355,607.97 L355.5,607.59 L356,607.21 L356.5,606.83 L357,606.45 L357.5,606.06 L358,605.68 L358.5,605.29 L359,604.91 L359.5,604.52 L360,604.13 L360.5,603.74 L361,603.35 L361.5,602.96 L362,602.57 L362.5,602.17 L363,601.78 L363.5,601.38 L364,600.99 L364.5,600.59 L365,600.19 L365.5,599.79 L366,599.39 L366.5,598.99 L367,598.59 L367.5,598.19 L368,597.79 L368.5,597.39 L369,596.99 L369.5,596.58 L370,596.18 L370.5,595.78 L371,595.37 L371.5,594.97 L372,594.56 L372.5,594.16 L373,593.75 L373.5,593.35 L374,592.94 L374.5,592.53 L375,592.13 L375.5,591.72 L376,591.32 L376.5,590.91 L377,590.51 L377.5,590.1 L378,589.7 L378.5,589.29 L379,588.89 L379.5,588.48 L380,588.08 L380.5,587.67 L381,587.27 L381.5,586.87 L382,586.46 L382.5,586.06 L383,585.66 L383.5,585.26 L384,584.86 L384.5,584.46 L385,584.06 L385.5,583.67 L386,583.27 L386.5,582.87 L387,582.48 L387.5,582.08 L388,581.69 L388.5,581.3 L389,580.91 L389.5,580.52 L390,580.13 L390.5,579.74 L391,579.36 L391.5,578.97 L392,578.59 L392.5,578.21 L393,577.83 L393.5,577.45 L394,577.07 L394.5,576.69 L395,576.32 L395.5,575.95 L396,575.58 L396.5,575.21 L397,574.84 L397.5,574.48 L398,574.11 L398.5,573.75 L399,573.39 L399.5,573.03 L400,572.68 L400.5,572.32 L401,571.97 L401.5,571.62 L402,571.28 L402.5,570.93 L403,570.59 L403.5,570.25 L404,569.91 L404.5,569.58 L405,569.25 L405.5,568.92 L406,568.59 L406.5,568.26 L407,567.94 L407.5,567.62 L408,567.31 L408.5,566.99 L409,566.68 L409.5,566.37 L410,566.07 L410.5,565.76 L411,565.46 L411.5,565.17 L412,564.87 L412.5,564.58 L413,564.3 L413.5,564.01 L414,563.73 L414.5,563.46 L415,563.18 L415.5,562.91 L416,562.64 L416.5,562.38 L417,562.12 L417.5,561.86 L418,561.61 L418.5,561.36 L419,561.11 L419.5,560.87 L420,560.63 L420.5,560.39 L421,560.16 L421.5,559.93 L422,559.71 L422.5,559.49 L423,559.27 L423.5,559.06 L424,558.85 L424.5,558.64 L425,558.44 L425.5,558.24 L426,558.05 L426.5,557.86 L427,557.67 L427.5,557.49 L428,557.32 L428.5,557.14 L429,556.97 L429.5,556.81 L430,556.65 L430.5,556.49 L431,556.34 L431.5,556.19 L432,556.05 L432.5,555.91 L433,555.77 L433.5,555.64 L434,555.52 L434.5,555.39 L435,555.28 L435.5,555.16 L436,555.05 L436.5,554.95 L437,554.85 L437.5,554.76 L438,554.66 L438.5,554.58 L439,554.5 L439.5,554.42 L440,554.35 L440.5,554.28 L441,554.21 L441.5,554.15 L442,554.1 L442.5,554.05 L443,554 L443.5,553.96 L444,553.93 L444.5,553.89 L445,553.87 L445.5,553.84 L446,553.83 L446.5,553.81 L447,553.8 L447.5,553.8 L448,553.8 L448.5,553.81 L449,553.82 L449.5,553.83 L450,553.85 L450.5,553.87 L451,553.9 L451.5,553.93 L452,553.97 L452.5,554.01 L453,554.06 L453.5,554.11 L454,554.17 L454.5,554.23 L455,554.29 L455.5,554.36 L456,554.43 L456.5,554.51 L457,554.59 L457.5,554.68 L458,554.77 L458.5,554.87 L459,554.97 L459.5,555.08 L460,555.19 L460.5,555.3 L461,555.42 L461.5,555.54 L462,555.67 L462.5,555.8 L463,555.94 L463.5,556.08 L464,556.22 L464.5,556.37 L465,556.52 L465.5,556.68 L466,556.84 L466.5,557.01 L467,557.18 L467.5,557.35 L468,557.53 L468.5,557.71 L469,557.9 L469.5,558.09 L470,558.28 L470.5,558.48 L471,558.68 L471.5,558.89 L472,559.1 L472.5,559.31 L473,559.53 L473.5,559.75 L474,559.98 L474.5,560.21 L475,560.44 L475.5,560.68 L476,560.92 L476.5,561.16 L477,561.41 L477.5,561.66 L478,561.91 L478.5,562.17 L479,562.43 L479.5,562.7 L480,562.96 L480.5,563.24 L481,563.51 L481.5,563.79 L482,564.07 L482.5,564.35 L483,564.64 L483.5,564.93 L484,565.23 L484.5,565.52 L485,565.82 L485.5,566.13 L486,566.43 L486.5,566.74 L487,567.05 L487.5,567.37 L488,567.69 L488.5,568.01 L489,568.33 L489.5,568.65 L490,568.98 L490.5,569.31 L491,569.64 L491.5,569.98 L492,570.32 L492.5,570.66 L493,571 L493.5,571.35 L494,571.69 L494.5,572.04 L495,572.39 L495.5,572.75 L496,573.1 L496.5,573.46 L497,573.82 L497.5,574.18 L498,574.55 L498.5,574.91 L499,575.28 L499.5,575.65 L500,576.02 L500.5,576.4 L501,576.77 L501.5,577.15 L502,577.52 L502.5,577.9 L503,578.28 L503.5,578.67 L504,579.05 L504.5,579.43 L505,579.82 L505.5,580.21 L506,580.6 L506.5,580.99 L507,581.38 L507.5,581.77 L508,582.16 L508.5,582.56 L509,582.95 L509.5,583.35 L510,583.75 L510.5,584.14 L511,584.54 L511.5,584.94 L512,585.34 L512.5,585.74 L513,586.14 L513.5,586.55 L514,586.95 L514.5,587.35 L515,587.75 L515.5,588.16 L516,588.56 L516.5,588.97 L517,589.37 L517.5,589.78 L518,590.18 L518.5,590.59 L519,590.99 L519.5,591.4 L520,591.8 L520.5,592.21 L521,592.62 L521.5,593.02 L522,593.43 L522.5,593.83 L523,594.24 L523.5,594.64 L524,595.05 L524.5,595.45 L525,595.86 L525.5,596.26 L526,596.66 L526.5,597.07 L527,597.47 L527.5,597.87 L528,598.27 L528.5,598.67 L529,599.07 L529.5,599.47 L530,599.87 L530.5,600.27 L531,600.67 L531.5,601.07 L532,601.46 L532.5,601.86 L533,602.25 L533.5,602.64 L534,603.04 L534.5,603.43 L535,603.82 L535.5,604.21 L536,604.6 L536.5,604.99 L537,605.37 L537.5,605.76 L538,606.14 L538.5,606.52 L539,606.91 L539.5,607.29 L540,607.67 L540.5,608.04 L541,608.42 L541.5,608.8 L542,609.17 L542.5,609.54 L543,609.91 L543.5,610.28 L544,610.65 L544.5,611.02 L545,611.39 L545.5,611.75 L546,612.11 L546.5,612.47 L547,612.83 L547.5,613.19 L548,613.55 L548.5,613.9 L549,614.25 L549.5,614.61 L550,614.96 L550.5,615.3 L551,615.65 L551.5,615.99 L552,616.34 L552.5,616.68 L553,617.02 L553.5,617.35 L554,617.69 L554.5,618.02 L555,618.36 L555.5,618.69 L556,619.01 L556.5,619.34 L557,619.67 L557.5,619.99 L558,620.31 L558.5,620.63 L559,620.95 L559.5,621.26 L560,621.57 L560.5,621.89 L561,622.19 L561.5,622.5 L562,622.81 L562.5,623.11 L563,623.41 L563.5,623.71 L564,624.01 L564.5,624.3 L565,624.6 L565.5,624.89 L566,625.18 L566.5,625.47 L567,625.75 L567.5,626.03 L568,626.32 L568.5,626.59 L569,626.87 L569.5,627.15 L570,627.42 L570.5,627.69 L571,627.96 L571.5,628.23 L572,628.49 L572.5,628.75 L573,629.01 L573.5,629.27 L574,629.53 L574.5,629.78 L575,630.04 L575.5,630.29 L576,630.54 L576.5,630.78 L577,631.03 L577.5,631.27 L578,631.51 L578.5,631.75 L579,631.98 L579.5,632.22 L580,632.45 L580.5,632.68 L581,632.91 L581.5,633.13 L582,633.36 L582.5,633.58 L583,633.8 L583.5,634.02 L584,634.23 L584.5,634.45 L585,634.66 L585.5,634.87 L586,635.07 L586.5,635.28 L587,635.48 L587.5,635.69 L588,635.89 L588.5,636.08 L589,636.28 L589.5,636.47 L590,636.67 L590.5,636.86 L591,637.05 L591.5,637.23 L592,637.42 L592.5,637.6 L593,637.78 L593.5,637.96 L594,638.14 L594.5,638.31 L595,638.49 L595.5,638.66 L596,638.83 L596.5,639 L597,639.16 L597.5,639.33 L598,639.49 L598.5,639.65 L599,639.81 L599.5,639.97 L600,640.12 L600.5,640.28 L601,640.43 L601.5,640.58 L602,640.73 L602.5,640.87 L603,641.02 L603.5,641.16 L604,641.3 L604.5,641.44 L605,641.58 L605.5,641.72 L606,641.86 L606.5,641.99 L607,642.12 L607.5,642.25 L608,642.38 L608.5,642.51 L609,642.64 L609.5,642.76 L610,642.88 L610.5,643 L611,643.12 L611.5,643.24 L612,643.36 L612.5,643.48 L613,643.59 L613.5,643.7 L614,643.81 L614.5,643.92 L615,644.03 L615.5,644.14 L616,644.24 L616.5,644.35 L617,644.45 L617.5,644.55 L618,644.65 L618.5,644.75 L619,644.85 L619.5,644.95 L620,645.04 L620.5,645.14 L621,645.23 L621.5,645.32 L622,645.41 L622.5,645.5 L623,645.59 L623.5,645.67 L624,645.76 L624.5,645.84 L625,645.92 L625.5,646.01 L626,646.09 L626.5,646.17 L627,646.24 L627.5,646.32 L628,646.4 L628.5,646.47 L629,646.55 L629.5,646.62 L630,646.69 L630.5,646.76 L631,646.83 L631.5,646.9 L632,646.97 L632.5,647.03 L633,647.1 L633.5,647.16 L634,647.23 L634.5,647.29 L635,647.35 L635.5,647.41 L636,647.47 L636.5,647.53 L637,647.59 L637.5,647.65 L638,647.7 L638.5,647.76 L639,647.82 L639.5,647.87 L640,647.92 L640.5,647.97 L641,648.03 L641.5,648.08 L642,648.13 L642.5,648.18 L643,648.22 L643.5,648.27 L644,648.32 L644.5,648.36 L645,648.41 L645.5,648.45 L646,648.5 L646.5,648.54 L647,648.58 L647.5,648.62 L648,648.67 L648.5,648.71 L649,648.75 L649.5,648.78 L650,648.82 L650.5,648.86 L651,648.9 L651.5,648.93 L652,648.97 L652.5,649.01 L653,649.04 L653.5,649.07 L654,649.11 L654.5,649.14 L655,649.17 L655.5,649.2 L656,649.24 L656.5,649.27 L657,649.3 L657.5,649.33 L658,649.36 L658.5,649.38 L659,649.41 L659.5,649.44 L660,649.47 L660.5,649.49 L661,649.52 L661.5,649.55 L662,649.57 L662.5,649.6 L663,649.62 L663.5,649.64 L664,649.67 L664.5,649.69 L665,649.71 L665.5,649.74 L666,649.76 L666.5,649.78 L667,649.8 L667.5,649.82 L668,649.84 L668.5,649.86 L669,649.88 L669.5,649.9 L670,649.92 L670.5,649.94 L671,649.96 L671.5,649.97 L672,649.99 L672.5,650.01 L673,650.02 L673.5,650.04 L674,650.06 L674.5,650.07 L675,650.09 L675.5,650.1 L676,650.12" stroke="#828282" stroke-width="0.8" fill="none"/>
<path d="M497.5,650.55 L498,650.52 L498.5,650.49 L499,650.45 L499.5,650.42 L500,650.37 L500.5,650.33 L501,650.28 L501.5,650.23 L502,650.17 L502.5,650.11 L503,650.05 L503.5,649.98 L504,649.9 L504.5,649.82 L505,649.73 L505.5,649.64 L506,649.54 L506.5,649.43 L507,649.32 L507.5,649.2 L508,649.07 L508.5,648.94 L509,648.8 L509.5,648.65 L510,648.49 L510.5,648.33 L511,648.15 L511.5,647.97 L512,647.78 L512.5,647.59 L513,647.38 L513.5,647.17 L514,646.95 L514.5,646.72 L515,646.49 L515.5,646.25 L516,646 L516.5,645.75 L517,645.49 L517.5,645.23 L518,644.96 L518.5,644.69 L519,644.41 L519.5,644.14 L520,643.86 L520.5,643.58 L521,643.3 L521.5,643.02 L522,642.74 L522.5,642.47 L523,642.19 L523.5,641.93 L524,641.66 L524.5,641.41 L525,641.16 L525.5,640.92 L526,640.69 L526.5,640.46 L527,640.25 L527.5,640.05 L528,639.86 L528.5,639.69 L529,639.53 L529.5,639.38 L530,639.25 L530.5,639.14 L531,639.04 L531.5,638.96 L532,638.89 L532.5,638.84 L533,638.81 L533.5,638.8 L534,638.81 L534.5,638.83 L535,638.87 L535.5,638.93 L536,639 L536.5,639.09 L537,639.2 L537.5,639.33 L538,639.47 L538.5,639.62 L539,639.79 L539.5,639.97 L540,640.17 L540.5,640.38 L541,640.59 L541.5,640.82 L542,641.06 L542.5,641.31 L543,641.56 L543.5,641.82 L544,642.09 L544.5,642.36 L545,642.63 L545.5,642.91 L546,643.19 L546.5,643.47 L547,643.75 L547.5,644.02 L548,644.3 L548.5,644.58 L549,644.85 L549.5,645.12 L550,645.39 L550.5,645.65 L551,645.9 L551.5,646.15 L552,646.39 L552.5,646.63 L553,646.86 L553.5,647.08 L554,647.3 L554.5,647.5 L555,647.7 L555.5,647.9 L556,648.08 L556.5,648.26 L557,648.43 L557.5,648.59 L558,648.74 L558.5,648.88 L559,649.02 L559.5,649.15 L560,649.27 L560.5,649.39 L561,649.5 L561.5,649.6 L562,649.7 L562.5,649.79 L563,649.87 L563.5,649.95 L564,650.02 L564.5,650.09 L565,650.15 L565.5,650.21 L566,650.26 L566.5,650.31 L567,650.36 L567.5,650.4 L568,650.44 L568.5,650.47 L569,650.51 L569.5,650.54" stroke="#828282" stroke-width="0.8" fill="none"/>
<path d="M495,650.55 L495.5,650.54 L496,650.53 L496.5,650.51 L497,650.5 L497.5,650.49 L498,650.48 L498.5,650.46 L499,650.45 L499.5,650.43 L500,650.42 L500.5,650.4 L501,650.39 L501.5,650.37 L502,650.35 L502.5,650.33 L503,650.32 L503.5,650.3 L504,650.28 L504.5,650.26 L505,650.23 L505.5,650.21 L506,650.19 L506.5,650.17 L507,650.14 L507.5,650.12 L508,650.09 L508.5,650.06 L509,650.03 L509.5,650.01 L510,649.98 L510.5,649.95 L511,649.91 L511.5,649.88 L512,649.85 L512.5,649.81 L513,649.78 L513.5,649.74 L514,649.7 L514.5,649.66 L515,649.62 L515.5,649.58 L516,649.54 L516.5,649.49 L517,649.45 L517.5,649.4 L518,649.35 L518.5,649.3 L519,649.25 L519.5,649.2 L520,649.15 L520.5,649.09 L521,649.04 L521.5,648.98 L522,648.92 L522.5,648.86 L523,648.8 L523.5,648.73 L524,648.67 L524.5,648.6 L525,648.53 L525.5,648.46 L526,648.38 L526.5,648.31 L527,648.23 L527.5,648.16 L528,648.07 L528.5,647.99 L529,647.91 L529.5,647.82 L530,647.74 L530.5,647.65 L531,647.55 L531.5,647.46 L532,647.36 L532.5,647.27 L533,647.17 L533.5,647.06 L534,646.96 L534.5,646.85 L535,646.74 L535.5,646.63 L536,646.52 L536.5,646.41 L537,646.29 L537.5,646.17 L538,646.05 L538.5,645.92 L539,645.8 L539.5,645.67 L540,645.54 L540.5,645.4 L541,645.27 L541.5,645.13 L542,644.99 L542.5,644.85 L543,644.7 L543.5,644.55 L544,644.4 L544.5,644.25 L545,644.1 L545.5,643.94 L546,643.78 L546.5,643.62 L547,643.46 L547.5,643.29 L548,643.13 L548.5,642.95 L549,642.78 L549.5,642.61 L550,642.43 L550.5,642.25 L551,642.07 L551.5,641.89 L552,641.7 L552.5,641.51 L553,641.33 L553.5,641.13 L554,640.94 L554.5,640.75 L555,640.55 L555.5,640.35 L556,640.15 L556.5,639.95 L557,639.74 L557.5,639.53 L558,639.33 L558.5,639.12 L559,638.91 L559.5,638.7 L560,638.48 L560.5,638.27 L561,638.05 L561.5,637.83 L562,637.61 L562.5,637.39 L563,637.17 L563.5,636.95 L564,636.73 L564.5,636.51 L565,636.28 L565.5,636.06 L566,635.83 L566.5,635.6 L567,635.38 L567.5,635.15 L568,634.92 L568.5,634.7 L569,634.47 L569.5,634.24 L570,634.01 L570.5,633.79 L571,633.56 L571.5,633.33 L572,633.11 L572.5,632.88 L573,632.66 L573.5,632.43 L574,632.21 L574.5,631.99 L575,631.76 L575.5,631.54 L576,631.32 L576.5,631.11 L577,630.89 L577.5,630.68 L578,630.46 L578.5,630.25 L579,630.04 L579.5,629.83 L580,629.63 L580.5,629.42 L581,629.22 L581.5,629.02 L582,628.82 L582.5,628.63 L583,628.44 L583.5,628.25 L584,628.06 L584.5,627.88 L585,627.7 L585.5,627.52 L586,627.34 L586.5,627.17 L587,627.01 L587.5,626.84 L588,626.68 L588.5,626.52 L589,626.37 L589.5,626.22 L590,626.07 L590.5,625.93 L591,625.79 L591.5,625.66 L592,625.53 L592.5,625.4 L593,625.28 L593.5,625.17 L594,625.05 L594.5,624.95 L595,624.84 L595.5,624.74 L596,624.65 L596.5,624.56 L597,624.47 L597.5,624.4 L598,624.32 L598.5,624.25 L599,624.18 L599.5,624.12 L600,624.07 L600.5,624.02 L601,623.97 L601.5,623.93 L602,623.9 L602.5,623.87 L603,623.85 L603.5,623.83 L604,623.81 L604.5,623.8 L605,623.8 L605.5,623.8 L606,623.81 L606.5,623.82 L607,623.84 L607.5,623.86 L608,623.89 L608.5,623.92 L609,623.96 L609.5,624 L610,624.05 L610.5,624.1 L611,624.16 L611.5,624.22 L612,624.29 L612.5,624.36 L613,624.44 L613.5,624.53 L614,624.61 L614.5,624.7 L615,624.8 L615.5,624.9 L616,625.01 L616.5,625.12 L617,625.24 L617.5,625.36 L618,625.48 L618.5,625.61 L619,625.74 L619.5,625.88 L620,626.02 L620.5,626.16 L621,626.31 L621.5,626.46 L622,626.62 L622.5,626.78 L623,626.94 L623.5,627.11 L624,627.28 L624.5,627.45 L625,627.63 L625.5,627.8 L626,627.99 L626.5,628.17 L627,628.36 L627.5,628.55 L628,628.75 L628.5,628.94 L629,629.14 L629.5,629.34 L630,629.54 L630.5,629.75 L631,629.96 L631.5,630.17 L632,630.38 L632.5,630.59 L633,630.8 L633.5,631.02 L634,631.24 L634.5,631.46 L635,631.68 L635.5,631.9 L636,632.12 L636.5,632.34 L637,632.57 L637.5,632.79 L638,633.02 L638.5,633.24 L639,633.47 L639.5,633.7 L640,633.92 L640.5,634.15 L641,634.38 L641.5,634.61 L642,634.83 L642.5,635.06 L643,635.29 L643.5,635.51 L644,635.74 L644.5,635.97 L645,636.19 L645.5,636.42 L646,636.64 L646.5,636.86 L647,637.08 L647.5,637.31 L648,637.53 L648.5,637.75 L649,637.96 L649.5,638.18 L650,638.4 L650.5,638.61 L651,638.82 L651.5,639.03 L652,639.24 L652.5,639.45 L653,639.66 L653.5,639.86 L654,640.07 L654.5,640.27 L655,640.47 L655.5,640.67 L656,640.86 L656.5,641.06 L657,641.25 L657.5,641.44 L658,641.63 L658.5,641.81 L659,642 L659.5,642.18 L660,642.36 L660.5,642.54 L661,642.71 L661.5,642.89 L662,643.06 L662.5,643.23 L663,643.39 L663.5,643.56 L664,643.72 L664.5,643.88 L665,644.04 L665.5,644.19 L666,644.34 L666.5,644.49 L667,644.64 L667.5,644.79 L668,644.93 L668.5,645.07 L669,645.21 L669.5,645.35 L670,645.48 L670.5,645.62 L671,645.75 L671.5,645.87 L672,646 L672.5,646.12 L673,646.24 L673.5,646.36 L674,646.48 L674.5,646.59 L675,646.7 L675.5,646.81 L676,646.92" stroke="#828282" stroke-width="0.8" fill="none"/>
<path d="M336,638.76 L336.5,638.03 L337,637.29 L337.5,636.52 L338,635.74 L338.5,634.93 L339,634.11 L339.5,633.28 L340,632.43 L340.5,631.57 L341,630.71 L341.5,629.84 L342,628.96 L342.5,628.09 L343,627.22 L343.5,626.36 L344,625.5 L344.5,624.66 L345,623.83 L345.5,623.02 L346,622.23 L346.5,621.47 L347,620.73 L347.5,620.02 L348,619.35 L348.5,618.72 L349,618.12 L349.5,617.57 L350,617.06 L350.5,616.6 L351,616.18 L351.5,615.82 L352,615.51 L352.5,615.26 L353,615.06 L353.5,614.92 L354,614.83 L354.5,614.8 L355,614.83 L355.5,614.92 L356,615.06 L356.5,615.26 L357,615.51 L357.5,615.82 L358,616.18 L358.5,616.6 L359,617.06 L359.5,617.57 L360,618.12 L360.5,618.72 L361,619.35 L361.5,620.02 L362,620.73 L362.5,621.47 L363,622.23 L363.5,623.02 L364,623.83 L364.5,624.66 L365,625.5 L365.5,626.36 L366,627.22 L366.5,628.09 L367,628.96 L367.5,629.84 L368,630.71 L368.5,631.57 L369,632.43 L369.5,633.28 L370,634.11 L370.5,634.93 L371,635.74 L371.5,636.52 L372,637.29 L372.5,638.03 L373,638.76 L373.5,639.46 L374,640.14 L374.5,640.79 L375,641.42 L375.5,642.02 L376,642.6 L376.5,643.15 L377,643.68 L377.5,644.18 L378,644.65 L378.5,645.1 L379,645.53 L379.5,645.93 L380,646.31 L380.5,646.66 L381,646.99 L381.5,647.31 L382,647.6 L382.5,647.87 L383,648.12 L383.5,648.36 L384,648.58 L384.5,648.78 L385,648.97 L385.5,649.14 L386,649.3 L386.5,649.44 L387,649.57 L387.5,649.7 L388,649.81 L388.5,649.91 L389,650 L389.5,650.09 L390,650.16 L390.5,650.23 L391,650.29 L391.5,650.35 L392,650.4 L392.5,650.45 L393,650.49 L393.5,650.52" stroke="#ff3030" stroke-width="0.9" fill="none"/>
<path d="M381.5,650.55 L382,650.51 L382.5,650.47 L383,650.42 L383.5,650.37 L384,650.31 L384.5,650.24 L385,650.16 L385.5,650.08 L386,649.98 L386.5,649.87 L387,649.76 L387.5,649.63 L388,649.48 L388.5,649.32 L389,649.15 L389.5,648.95 L390,648.74 L390.5,648.51 L391,648.26 L391.5,647.99 L392,647.69 L392.5,647.37 L393,647.02 L393.5,646.65 L394,646.24 L394.5,645.81 L395,645.35 L395.5,644.85 L396,644.33 L396.5,643.77 L397,643.18 L397.5,642.55 L398,641.89 L398.5,641.2 L399,640.47 L399.5,639.71 L400,638.91 L400.5,638.09 L401,637.23 L401.5,636.34 L402,635.43 L402.5,634.49 L403,633.53 L403.5,632.55 L404,631.54 L404.5,630.53 L405,629.5 L405.5,628.46 L406,627.41 L406.5,626.37 L407,625.33 L407.5,624.3 L408,623.28 L408.5,622.27 L409,621.29 L409.5,620.33 L410,619.41 L410.5,618.52 L411,617.66 L411.5,616.86 L412,616.1 L412.5,615.39 L413,614.74 L413.5,614.15 L414,613.62 L414.5,613.16 L415,612.77 L415.5,612.45 L416,612.2 L416.5,612.02 L417,611.92 L417.5,611.9 L418,611.95 L418.5,612.08 L419,612.29 L419.5,612.57 L420,612.92 L420.5,613.34 L421,613.82 L421.5,614.38 L422,614.99 L422.5,615.67 L423,616.4 L423.5,617.17 L424,618 L424.5,618.87 L425,619.77 L425.5,620.71 L426,621.68 L426.5,622.67 L427,623.68 L427.5,624.71 L428,625.75 L428.5,626.79 L429,627.83 L429.5,628.87 L430,629.91 L430.5,630.93 L431,631.95 L431.5,632.94 L432,633.92 L432.5,634.87 L433,635.8 L433.5,636.7 L434,637.58 L434.5,638.42 L435,639.23 L435.5,640.01 L436,640.76 L436.5,641.48 L437,642.16 L437.5,642.8 L438,643.42 L438.5,643.99 L439,644.54 L439.5,645.05 L440,645.54 L440.5,645.99 L441,646.41 L441.5,646.8 L442,647.16 L442.5,647.5 L443,647.81 L443.5,648.1 L444,648.36 L444.5,648.61 L445,648.83 L445.5,649.03 L446,649.22 L446.5,649.39 L447,649.54 L447.5,649.68 L448,649.81 L448.5,649.92 L449,650.02 L449.5,650.11 L450,650.19 L450.5,650.27 L451,650.33 L451.5,650.39 L452,650.44 L452.5,650.49 L453,650.53" stroke="#ff3030" stroke-width="0.9" fill="none"/>
<path d="M418.5,650.51 L419,650.42 L419.5,650.31 L420,650.17 L420.5,649.99 L421,649.77 L421.5,649.5 L422,649.16 L422.5,648.76 L423,648.26 L423.5,647.67 L424,646.96 L424.5,646.12 L425,645.13 L425.5,643.97 L426,642.62 L426.5,641.06 L427,639.27 L427.5,637.23 L428,634.93 L428.5,632.34 L429,629.46 L429.5,626.28 L430,622.78 L430.5,618.98 L431,614.88 L431.5,610.49 L432,605.82 L432.5,600.92 L433,595.8 L433.5,590.52 L434,585.12 L434.5,579.65 L435,574.19 L435.5,568.8 L436,563.54 L436.5,558.5 L437,553.73 L437.5,549.33 L438,545.35 L438.5,541.86 L439,538.92 L439.5,536.58 L440,534.88 L440.5,533.85 L441,533.5 L441.5,533.85 L442,534.88 L442.5,536.58 L443,538.92 L443.5,541.86 L444,545.35 L444.5,549.33 L445,553.73 L445.5,558.5 L446,563.54 L446.5,568.8 L447,574.19 L447.5,579.65 L448,585.12 L448.5,590.52 L449,595.8 L449.5,600.92 L450,605.82 L450.5,610.49 L451,614.88 L451.5,618.98 L452,622.78 L452.5,626.28 L453,629.46 L453.5,632.34 L454,634.93 L454.5,637.23 L455,639.27 L455.5,641.06 L456,642.62 L456.5,643.97 L457,645.13 L457.5,646.12 L458,646.96 L458.5,647.67 L459,648.26 L459.5,648.76 L460,649.16 L460.5,649.5 L461,649.77 L461.5,649.99 L462,650.17 L462.5,650.31 L463,650.42 L463.5,650.51" stroke="#ff3030" stroke-width="0.9" fill="none"/>
<path d="M446,650.52 L446.5,650.46 L447,650.38 L447.5,650.28 L448,650.17 L448.5,650.03 L449,649.86 L449.5,649.67 L450,649.44 L450.5,649.18 L451,648.87 L451.5,648.51 L452,648.09 L452.5,647.62 L453,647.08 L453.5,646.46 L454,645.77 L454.5,645 L455,644.13 L455.5,643.17 L456,642.11 L456.5,640.94 L457,639.67 L457.5,638.29 L458,636.8 L458.5,635.21 L459,633.51 L459.5,631.71 L460,629.81 L460.5,627.83 L461,625.77 L461.5,623.65 L462,621.48 L462.5,619.28 L463,617.06 L463.5,614.84 L464,612.65 L464.5,610.51 L465,608.44 L465.5,606.45 L466,604.58 L466.5,602.84 L467,601.26 L467.5,599.85 L468,598.64 L468.5,597.63 L469,596.85 L469.5,596.29 L470,595.98 L470.5,595.9 L471,596.08 L471.5,596.49 L472,597.14 L472.5,598.01 L473,599.1 L473.5,600.39 L474,601.87 L474.5,603.52 L475,605.31 L475.5,607.23 L476,609.26 L476.5,611.36 L477,613.53 L477.5,615.73 L478,617.95 L478.5,620.16 L479,622.35 L479.5,624.5 L480,626.6 L480.5,628.63 L481,630.58 L481.5,632.44 L482,634.2 L482.5,635.86 L483,637.41 L483.5,638.86 L484,640.19 L484.5,641.42 L485,642.55 L485.5,643.57 L486,644.49 L486.5,645.32 L487,646.06 L487.5,646.72 L488,647.3 L488.5,647.82 L489,648.26 L489.5,648.66 L490,648.99 L490.5,649.29 L491,649.54 L491.5,649.75 L492,649.93 L492.5,650.09 L493,650.21 L493.5,650.32 L494,650.41 L494.5,650.49 L495,650.55" stroke="#ff3030" stroke-width="0.9" fill="none"/>
<path d="M333.55,600.08l6.4,6.4M333.55,606.48l6.4,-6.4M337.88,588.34l6.4,6.4M337.88,594.74l6.4,-6.4M342.21,580.39l6.4,6.4M342.21,586.79l6.4,-6.4M346.54,574.16l6.4,6.4M346.54,580.56l6.4,-6.4M350.87,570.37l6.4,6.4M350.87,576.77l6.4,-6.4M355.2,569.56l6.4,6.4M355.2,575.96l6.4,-6.4M359.53,571.85l6.4,6.4M359.53,578.25l6.4,-6.4M363.86,574.82l6.4,6.4M363.86,581.22l6.4,-6.4M368.19,577.56l6.4,6.4M368.19,583.96l6.4,-6.4M372.52,579.57l6.4,6.4M372.52,585.97l6.4,-6.4M376.85,579.89l6.4,6.4M376.85,586.29l6.4,-6.4M381.18,577.72l6.4,6.4M381.18,584.12l6.4,-6.4M385.51,573.21l6.4,6.4M385.51,579.61l6.4,-6.4M389.84,566.28l6.4,6.4M389.84,572.68l6.4,-6.4M394.17,557.1l6.4,6.4M394.17,563.5l6.4,-6.4M398.5,545.68l6.4,6.4M398.5,552.08l6.4,-6.4M402.83,535.56l6.4,6.4M402.83,541.96l6.4,-6.4M407.16,528.35l6.4,6.4M407.16,534.75l6.4,-6.4M411.49,522.7l6.4,6.4M411.49,529.1l6.4,-6.4M415.82,517.2l6.4,6.4M415.82,523.6l6.4,-6.4M420.15,509.57l6.4,6.4M420.15,515.97l6.4,-6.4M424.48,496.88l6.4,6.4M424.48,503.28l6.4,-6.4M428.81,472.91l6.4,6.4M428.81,479.31l6.4,-6.4M433.14,438.42l6.4,6.4M433.14,444.82l6.4,-6.4M437.47,424.01l6.4,6.4M437.47,430.41l6.4,-6.4M441.8,439.09l6.4,6.4M441.8,445.49l6.4,-6.4M446.13,476.45l6.4,6.4M446.13,482.85l6.4,-6.4M450.46,502.21l6.4,6.4M450.46,508.61l6.4,-6.4M454.79,512.29l6.4,6.4M454.79,518.69l6.4,-6.4M459.12,508.6l6.4,6.4M459.12,515l6.4,-6.4M463.45,502.22l6.4,6.4M463.45,508.62l6.4,-6.4M467.78,499.82l6.4,6.4M467.78,506.22l6.4,-6.4M472.11,507.86l6.4,6.4M472.11,514.26l6.4,-6.4M476.44,526.09l6.4,6.4M476.44,532.49l6.4,-6.4M480.77,543.65l6.4,6.4M480.77,550.05l6.4,-6.4M485.1,555.39l6.4,6.4M485.1,561.79l6.4,-6.4M489.43,562.34l6.4,6.4M489.43,568.74l6.4,-6.4M493.76,567.37l6.4,6.4M493.76,573.77l6.4,-6.4M498.09,571.56l6.4,6.4M498.09,577.96l6.4,-6.4M502.42,574.99l6.4,6.4M502.42,581.39l6.4,-6.4M506.75,577.42l6.4,6.4M506.75,583.82l6.4,-6.4M511.08,579.06l6.4,6.4M511.08,585.46l6.4,-6.4M515.41,580.56l6.4,6.4M515.41,586.96l6.4,-6.4M519.74,582.2l6.4,6.4M519.74,588.6l6.4,-6.4M524.07,584.06l6.4,6.4M524.07,590.46l6.4,-6.4M528.4,586.26l6.4,6.4M528.4,592.66l6.4,-6.4M532.73,589.05l6.4,6.4M532.73,595.45l6.4,-6.4M537.06,592.2l6.4,6.4M537.06,598.6l6.4,-6.4M541.39,595.58l6.4,6.4M541.39,601.98l6.4,-6.4M545.72,599.23l6.4,6.4M545.72,605.63l6.4,-6.4M550.05,602.36l6.4,6.4M550.05,608.76l6.4,-6.4M554.38,604.78l6.4,6.4M554.38,611.18l6.4,-6.4M558.71,606.72l6.4,6.4M558.71,613.12l6.4,-6.4M563.04,608.3l6.4,6.4M563.04,614.7l6.4,-6.4M567.37,609.48l6.4,6.4M567.37,615.88l6.4,-6.4M571.7,610.29l6.4,6.4M571.7,616.69l6.4,-6.4M576.03,610.69l6.4,6.4M576.03,617.09l6.4,-6.4M580.36,610.88l6.4,6.4M580.36,617.28l6.4,-6.4M584.69,610.94l6.4,6.4M584.69,617.34l6.4,-6.4M589.02,610.95l6.4,6.4M589.02,617.35l6.4,-6.4M593.35,611.35l6.4,6.4M593.35,617.75l6.4,-6.4M597.68,612.13l6.4,6.4M597.68,618.53l6.4,-6.4M602.01,613.23l6.4,6.4M602.01,619.63l6.4,-6.4M606.34,614.7l6.4,6.4M606.34,621.1l6.4,-6.4M610.67,616.45l6.4,6.4M610.67,622.85l6.4,-6.4M615,618.38l6.4,6.4M615,624.78l6.4,-6.4M619.33,620.48l6.4,6.4M619.33,626.88l6.4,-6.4M623.66,622.85l6.4,6.4M623.66,629.25l6.4,-6.4M627.99,625.55l6.4,6.4M627.99,631.95l6.4,-6.4M632.32,628.33l6.4,6.4M632.32,634.73l6.4,-6.4M636.65,630.95l6.4,6.4M636.65,637.35l6.4,-6.4M640.98,633.45l6.4,6.4M640.98,639.85l6.4,-6.4M645.31,635.69l6.4,6.4M645.31,642.09l6.4,-6.4M649.64,637.67l6.4,6.4M649.64,644.07l6.4,-6.4M653.97,639.35l6.4,6.4M653.97,645.75l6.4,-6.4M658.3,640.62l6.4,6.4M658.3,647.02l6.4,-6.4M662.63,641.6l6.4,6.4M662.63,648l6.4,-6.4M666.96,642.49l6.4,6.4M666.96,648.89l6.4,-6.4M671.29,643.23l6.4,6.4M671.29,649.63l6.4,-6.4" stroke="#333" stroke-width="1" fill="none"/>
<path d="M336,605.5 L336.45,604.19 L337.06,602.34 L337.79,600.16 L338.58,597.87 L339.37,595.68 L340.1,593.8 L340.77,592.23 L341.41,590.81 L342.06,589.48 L342.73,588.2 L343.44,586.93 L344.2,585.6 L345.04,584.19 L345.96,582.71 L346.91,581.24 L347.87,579.83 L348.81,578.53 L349.7,577.4 L350.56,576.44 L351.4,575.6 L352.23,574.88 L353.03,574.26 L353.79,573.74 L354.5,573.3 L355.12,572.95 L355.66,572.69 L356.16,572.52 L356.67,572.45 L357.23,572.47 L357.9,572.6 L358.67,572.84 L359.5,573.2 L360.38,573.66 L361.31,574.2 L362.29,574.78 L363.3,575.4 L364.36,576.09 L365.49,576.89 L366.66,577.74 L367.85,578.59 L369.04,579.39 L370.2,580.1 L371.35,580.74 L372.52,581.37 L373.69,581.95 L374.83,582.45 L375.94,582.85 L377,583.1 L377.99,583.22 L378.93,583.23 L379.84,583.14 L380.72,582.93 L381.6,582.62 L382.5,582.2 L383.42,581.64 L384.36,580.94 L385.29,580.13 L386.2,579.24 L387.08,578.32 L387.9,577.4 L388.66,576.48 L389.37,575.52 L390.04,574.52 L390.69,573.49 L391.34,572.42 L392,571.3 L392.69,570.12 L393.39,568.86 L394.08,567.57 L394.76,566.26 L395.4,564.96 L396,563.7 L396.49,562.58 L396.89,561.61 L397.24,560.64 L397.64,559.56 L398.13,558.22 L398.8,556.5 L399.67,554.25 L400.69,551.54 L401.81,548.58 L402.99,545.57 L404.17,542.71 L405.3,540.2 L406.41,538.02 L407.53,536.01 L408.66,534.14 L409.78,532.41 L410.86,530.81 L411.9,529.3 L412.88,527.98 L413.82,526.86 L414.72,525.86 L415.61,524.9 L416.5,523.87 L417.4,522.7 L418.32,521.41 L419.24,520.08 L420.17,518.69 L421.08,517.23 L421.96,515.67 L422.8,514 L423.61,512.19 L424.4,510.26 L425.17,508.22 L425.9,506.13 L426.58,504.01 L427.2,501.9 L427.75,499.83 L428.22,497.77 L428.65,495.69 L429.06,493.53 L429.46,491.25 L429.9,488.8 L430.37,486.16 L430.85,483.37 L431.33,480.46 L431.81,477.46 L432.27,474.39 L432.7,471.3 L433.09,468.12 L433.46,464.81 L433.8,461.45 L434.14,458.09 L434.51,454.78 L434.9,451.6 L435.33,448.43 L435.79,445.21 L436.27,442.06 L436.75,439.07 L437.23,436.38 L437.7,434.1 L438.15,432.16 L438.59,430.47 L439.02,429.07 L439.47,428.01 L439.92,427.33 L440.4,427.1 L440.91,427.31 L441.44,427.93 L441.99,428.93 L442.54,430.31 L443.08,432.04 L443.6,434.1 L444.1,436.6 L444.6,439.56 L445.09,442.88 L445.57,446.44 L446.04,450.12 L446.5,453.8 L446.94,457.6 L447.37,461.63 L447.78,465.78 L448.2,469.94 L448.64,474.02 L449.1,477.9 L449.59,481.64 L450.1,485.33 L450.63,488.93 L451.17,492.4 L451.73,495.71 L452.3,498.8 L452.89,501.78 L453.5,504.69 L454.12,507.43 L454.75,509.9 L455.38,511.99 L456,513.6 L456.6,514.67 L457.19,515.28 L457.77,515.51 L458.38,515.45 L459.01,515.19 L459.7,514.8 L460.45,514.19 L461.24,513.28 L462.08,512.16 L462.92,510.93 L463.77,509.71 L464.6,508.6 L465.42,507.44 L466.23,506.11 L467.04,504.78 L467.86,503.63 L468.68,502.81 L469.5,502.5 L470.33,502.65 L471.16,503.13 L472,503.94 L472.84,505.11 L473.67,506.66 L474.5,508.6 L475.32,511.1 L476.14,514.16 L476.96,517.6 L477.77,521.23 L478.58,524.86 L479.4,528.3 L480.22,531.67 L481.03,535.14 L481.85,538.61 L482.67,541.98 L483.48,545.14 L484.3,548 L485.09,550.51 L485.84,552.74 L486.59,554.76 L487.38,556.65 L488.24,558.47 L489.2,560.3 L490.26,562.1 L491.39,563.83 L492.59,565.48 L493.86,567.09 L495.19,568.65 L496.6,570.2 L498.11,571.76 L499.72,573.33 L501.4,574.86 L503.11,576.31 L504.83,577.64 L506.5,578.8 L508.2,579.78 L509.96,580.62 L511.72,581.34 L513.41,581.96 L514.96,582.5 L516.3,583 L517.31,583.38 L518.03,583.61 L518.61,583.76 L519.19,583.93 L519.94,584.18 L521,584.6 L522.41,585.19 L524.07,585.87 L525.89,586.64 L527.79,587.5 L529.68,588.42 L531.5,589.4 L533.25,590.46 L535,591.61 L536.75,592.83 L538.5,594.09 L540.25,595.39 L542,596.7 L543.75,598.07 L545.5,599.53 L547.24,601.02 L548.99,602.49 L550.74,603.87 L552.5,605.1 L554.26,606.19 L556.03,607.19 L557.8,608.09 L559.57,608.93 L561.34,609.69 L563.1,610.4 L564.86,611.05 L566.61,611.62 L568.36,612.13 L570.1,612.58 L571.85,612.97 L573.6,613.3 L575.35,613.56 L577.1,613.74 L578.85,613.87 L580.6,613.96 L582.35,614.03 L584.1,614.1 L585.85,614.15 L587.6,614.14 L589.35,614.12 L591.1,614.11 L592.85,614.16 L594.6,614.3 L596.35,614.52 L598.1,614.79 L599.85,615.11 L601.6,615.49 L603.35,615.92 L605.1,616.4 L606.85,616.94 L608.6,617.55 L610.35,618.21 L612.1,618.91 L613.85,619.64 L615.6,620.4 L617.35,621.18 L619.1,621.99 L620.85,622.84 L622.6,623.72 L624.35,624.64 L626.1,625.6 L627.85,626.63 L629.6,627.72 L631.35,628.85 L633.1,629.99 L634.85,631.12 L636.6,632.2 L638.35,633.25 L640.1,634.3 L641.85,635.33 L643.6,636.33 L645.35,637.29 L647.1,638.2 L648.85,639.06 L650.6,639.88 L652.34,640.66 L654.09,641.4 L655.84,642.08 L657.6,642.7 L659.4,643.26 L661.25,643.76 L663.1,644.2 L664.91,644.6 L666.62,644.96 L668.2,645.3 L669.69,645.61 L671.15,645.88 L672.51,646.11 L673.73,646.31 L674.74,646.47 L675.5,646.6" stroke="#000" stroke-width="1.7" fill="none" stroke-linejoin="round"/>
<rect x="336" y="404" width="340" height="275.4" fill="none" stroke="#000" stroke-width="1.4"/>
<path d="M336,679.4v-5.5M336,404v5.5M347.33,679.4v-3.2M347.33,404v3.2M358.67,679.4v-3.2M358.67,404v3.2M370,679.4v-3.2M370,404v3.2M381.33,679.4v-3.2M381.33,404v3.2M392.67,679.4v-5.5M392.67,404v5.5M404,679.4v-3.2M404,404v3.2M415.33,679.4v-3.2M415.33,404v3.2M426.67,679.4v-3.2M426.67,404v3.2M438,679.4v-3.2M438,404v3.2M449.33,679.4v-5.5M449.33,404v5.5M460.67,679.4v-3.2M460.67,404v3.2M472,679.4v-3.2M472,404v3.2M483.33,679.4v-3.2M483.33,404v3.2M494.67,679.4v-3.2M494.67,404v3.2M506,679.4v-5.5M506,404v5.5M517.33,679.4v-3.2M517.33,404v3.2M528.67,679.4v-3.2M528.67,404v3.2M540,679.4v-3.2M540,404v3.2M551.33,679.4v-3.2M551.33,404v3.2M562.67,679.4v-5.5M562.67,404v5.5M574,679.4v-3.2M574,404v3.2M585.33,679.4v-3.2M585.33,404v3.2M596.67,679.4v-3.2M596.67,404v3.2M608,679.4v-3.2M608,404v3.2M619.33,679.4v-5.5M619.33,404v5.5M630.67,679.4v-3.2M630.67,404v3.2M642,679.4v-3.2M642,404v3.2M653.33,679.4v-3.2M653.33,404v3.2M664.67,679.4v-3.2M664.67,404v3.2M676,679.4v-5.5M676,404v5.5M336,404h5.5M676,404h-5.5M336,422.36h3.2M676,422.36h-3.2M336,440.72h3.2M676,440.72h-3.2M336,459.08h3.2M676,459.08h-3.2M336,477.44h3.2M676,477.44h-3.2M336,495.8h5.5M676,495.8h-5.5M336,514.16h3.2M676,514.16h-3.2M336,532.52h3.2M676,532.52h-3.2M336,550.88h3.2M676,550.88h-3.2M336,569.24h3.2M676,569.24h-3.2M336,587.6h5.5M676,587.6h-5.5M336,605.96h3.2M676,605.96h-3.2M336,624.32h3.2M676,624.32h-3.2M336,642.68h3.2M676,642.68h-3.2M336,661.04h3.2M676,661.04h-3.2M336,679.4h5.5M676,679.4h-5.5" stroke="#000" stroke-width="1.3" fill="none"/>
<path d="M336,365H482" stroke="#3a3a3a" stroke-width="1.7"/>
<path d="M352.5,44.5V364.2" stroke="#2f6bff" stroke-width="1.2" stroke-dasharray="2.5,1.1"/>
<path d="M434.3,44.5V364.2" stroke="#2f6bff" stroke-width="1.2" stroke-dasharray="2.5,1.1"/>
<path d="M462.5,44.5V364.2" stroke="#2f6bff" stroke-width="1.2" stroke-dasharray="2.5,1.1"/>
<path d="M354.5,365.8V679.4" stroke="#ff1010" stroke-width="1.2" stroke-dasharray="2.5,1.1"/>
<path d="M417.4,365.8V679.4" stroke="#ff1010" stroke-width="2.0" stroke-dasharray="2.5,1.1"/>
<path d="M441.0,365.8V679.4" stroke="#ff1010" stroke-width="2.0" stroke-dasharray="2.5,1.1"/>
<path d="M470.4,365.8V679.4" stroke="#ff1010" stroke-width="1.2" stroke-dasharray="2.5,1.1"/>
<g font-family="Liberation Sans" font-size="16"><text x="336" y="340" text-anchor="middle">5</text>
<text x="392.67" y="340" text-anchor="middle">10</text>
<text x="449.33" y="340" text-anchor="middle">15</text>
<text x="506" y="340" text-anchor="middle">20</text>
<text x="562.67" y="340" text-anchor="middle">25</text>
<text x="619.33" y="340" text-anchor="middle">30</text>
<text x="676" y="340" text-anchor="middle">35</text><text x="336" y="698.9" text-anchor="middle">5</text>
<text x="392.67" y="698.9" text-anchor="middle">10</text>
<text x="449.33" y="698.9" text-anchor="middle">15</text>
<text x="506" y="698.9" text-anchor="middle">20</text>
<text x="562.67" y="698.9" text-anchor="middle">25</text>
<text x="619.33" y="698.9" text-anchor="middle">30</text>
<text x="676" y="698.9" text-anchor="middle">35</text></g>
<text x="488.5" y="374.5" font-family="Liberation Sans" font-size="15"><tspan font-weight="bold" font-style="italic">q</tspan><tspan fill="#444" font-size="14.5"> (Å</tspan><tspan fill="#444" font-size="8" dy="-4.2">-1</tspan><tspan fill="#444" font-size="14.5" dy="4.2">)</tspan></text>
<text x="488.5" y="724.8" font-family="Liberation Sans" font-size="15"><tspan font-weight="bold" font-style="italic">q</tspan><tspan fill="#444" font-size="14.5"> (Å</tspan><tspan fill="#444" font-size="8" dy="-4.2">-1</tspan><tspan fill="#444" font-size="14.5" dy="4.2">)</tspan></text>
<text transform="translate(321.3,173.9) rotate(-90)" text-anchor="middle" font-family="Liberation Sans" font-size="15"><tspan font-weight="bold" letter-spacing="0.75">intensity</tspan><tspan letter-spacing="0.3"> (arb. units)</tspan></text>
<text transform="translate(318.4,533.4) rotate(-90)" text-anchor="middle" font-family="Liberation Sans" font-size="15"><tspan font-weight="bold" letter-spacing="0.75">intensity</tspan><tspan letter-spacing="0.3"> (arb. units)</tspan></text></g>
</svg></body></html>
